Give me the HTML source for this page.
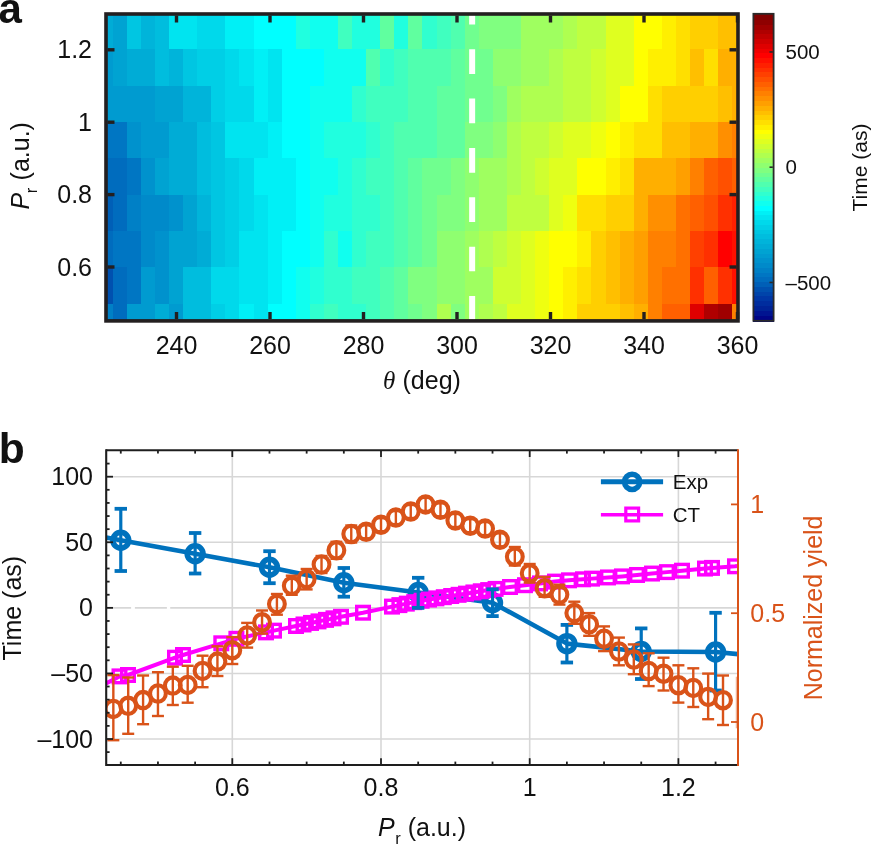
<!DOCTYPE html>
<html><head><meta charset="utf-8"><title>figure</title><style>html,body{margin:0;padding:0;background:#fff;width:871px;height:845px;overflow:hidden}svg{display:block;will-change:transform}text{font-family:"Liberation Sans",sans-serif}</style></head><body>
<svg width="871" height="845" viewBox="0 0 871 845">
<rect x="0" y="0" width="871" height="845" fill="#fff"/>
<g shape-rendering="crispEdges">
<rect x="106.80" y="14.70" width="6.50" height="35.30" fill="#00acd6"/>
<rect x="112.70" y="14.70" width="14.68" height="35.30" fill="#00a3d2"/>
<rect x="126.78" y="14.70" width="14.68" height="35.30" fill="#00c6e2"/>
<rect x="140.86" y="14.70" width="14.68" height="35.30" fill="#00b4da"/>
<rect x="154.94" y="14.70" width="14.68" height="35.30" fill="#00bdde"/>
<rect x="169.02" y="14.70" width="14.68" height="35.30" fill="#00e4f0"/>
<rect x="183.10" y="14.70" width="14.68" height="35.30" fill="#00e4f0"/>
<rect x="197.18" y="14.70" width="14.68" height="35.30" fill="#00d9eb"/>
<rect x="211.26" y="14.70" width="14.68" height="35.30" fill="#00d9eb"/>
<rect x="225.34" y="14.70" width="14.68" height="35.30" fill="#00f0f6"/>
<rect x="239.42" y="14.70" width="14.68" height="35.30" fill="#00f0f6"/>
<rect x="253.50" y="14.70" width="14.68" height="35.30" fill="#00ffff"/>
<rect x="267.58" y="14.70" width="14.68" height="35.30" fill="#00ffff"/>
<rect x="281.66" y="14.70" width="14.68" height="35.30" fill="#00ffff"/>
<rect x="295.74" y="14.70" width="14.68" height="35.30" fill="#20ffdf"/>
<rect x="309.82" y="14.70" width="14.68" height="35.30" fill="#10ffef"/>
<rect x="323.90" y="14.70" width="14.68" height="35.30" fill="#10ffef"/>
<rect x="337.98" y="14.70" width="14.68" height="35.30" fill="#40ffbf"/>
<rect x="352.06" y="14.70" width="14.68" height="35.30" fill="#20ffdf"/>
<rect x="366.14" y="14.70" width="14.68" height="35.30" fill="#20ffdf"/>
<rect x="380.22" y="14.70" width="14.68" height="35.30" fill="#60ff9f"/>
<rect x="394.30" y="14.70" width="14.68" height="35.30" fill="#20ffdf"/>
<rect x="408.38" y="14.70" width="14.68" height="35.30" fill="#60ff9f"/>
<rect x="422.46" y="14.70" width="14.68" height="35.30" fill="#30ffcf"/>
<rect x="436.54" y="14.70" width="14.68" height="35.30" fill="#40ffbf"/>
<rect x="450.62" y="14.70" width="14.68" height="35.30" fill="#50ffaf"/>
<rect x="464.70" y="14.70" width="14.68" height="35.30" fill="#70ff8f"/>
<rect x="478.78" y="14.70" width="14.68" height="35.30" fill="#80ff80"/>
<rect x="492.86" y="14.70" width="14.68" height="35.30" fill="#80ff80"/>
<rect x="506.94" y="14.70" width="14.68" height="35.30" fill="#80ff80"/>
<rect x="521.02" y="14.70" width="14.68" height="35.30" fill="#9fff60"/>
<rect x="535.10" y="14.70" width="14.68" height="35.30" fill="#9fff60"/>
<rect x="549.18" y="14.70" width="14.68" height="35.30" fill="#9fff60"/>
<rect x="563.26" y="14.70" width="14.68" height="35.30" fill="#afff50"/>
<rect x="577.34" y="14.70" width="14.68" height="35.30" fill="#bfff40"/>
<rect x="591.42" y="14.70" width="14.68" height="35.30" fill="#bfff40"/>
<rect x="605.50" y="14.70" width="14.68" height="35.30" fill="#dfff20"/>
<rect x="619.58" y="14.70" width="14.68" height="35.30" fill="#dfff20"/>
<rect x="633.66" y="14.70" width="14.68" height="35.30" fill="#ffff00"/>
<rect x="647.74" y="14.70" width="14.68" height="35.30" fill="#ffff00"/>
<rect x="661.82" y="14.70" width="14.68" height="35.30" fill="#ffef00"/>
<rect x="675.90" y="14.70" width="14.68" height="35.30" fill="#ffdf00"/>
<rect x="689.98" y="14.70" width="14.68" height="35.30" fill="#ffcf00"/>
<rect x="704.06" y="14.70" width="14.68" height="35.30" fill="#ffcf00"/>
<rect x="718.14" y="14.70" width="14.68" height="35.30" fill="#ffbf00"/>
<rect x="732.22" y="14.70" width="5.58" height="35.30" fill="#ffbf00"/>
<rect x="106.80" y="49.40" width="6.50" height="36.90" fill="#009bd0"/>
<rect x="112.70" y="49.40" width="14.68" height="36.90" fill="#00a3d2"/>
<rect x="126.78" y="49.40" width="14.68" height="36.90" fill="#00acd6"/>
<rect x="140.86" y="49.40" width="14.68" height="36.90" fill="#00acd6"/>
<rect x="154.94" y="49.40" width="14.68" height="36.90" fill="#00bdde"/>
<rect x="169.02" y="49.40" width="14.68" height="36.90" fill="#00b4da"/>
<rect x="183.10" y="49.40" width="14.68" height="36.90" fill="#00c6e2"/>
<rect x="197.18" y="49.40" width="14.68" height="36.90" fill="#00cfe6"/>
<rect x="211.26" y="49.40" width="14.68" height="36.90" fill="#00cfe6"/>
<rect x="225.34" y="49.40" width="14.68" height="36.90" fill="#00d9eb"/>
<rect x="239.42" y="49.40" width="14.68" height="36.90" fill="#00e4f0"/>
<rect x="253.50" y="49.40" width="14.68" height="36.90" fill="#00f0f6"/>
<rect x="267.58" y="49.40" width="14.68" height="36.90" fill="#00e4f0"/>
<rect x="281.66" y="49.40" width="14.68" height="36.90" fill="#00ffff"/>
<rect x="295.74" y="49.40" width="14.68" height="36.90" fill="#00ffff"/>
<rect x="309.82" y="49.40" width="14.68" height="36.90" fill="#00ffff"/>
<rect x="323.90" y="49.40" width="14.68" height="36.90" fill="#10ffef"/>
<rect x="337.98" y="49.40" width="14.68" height="36.90" fill="#10ffef"/>
<rect x="352.06" y="49.40" width="14.68" height="36.90" fill="#10ffef"/>
<rect x="366.14" y="49.40" width="14.68" height="36.90" fill="#50ffaf"/>
<rect x="380.22" y="49.40" width="14.68" height="36.90" fill="#30ffcf"/>
<rect x="394.30" y="49.40" width="14.68" height="36.90" fill="#40ffbf"/>
<rect x="408.38" y="49.40" width="14.68" height="36.90" fill="#50ffaf"/>
<rect x="422.46" y="49.40" width="14.68" height="36.90" fill="#50ffaf"/>
<rect x="436.54" y="49.40" width="14.68" height="36.90" fill="#50ffaf"/>
<rect x="450.62" y="49.40" width="14.68" height="36.90" fill="#60ff9f"/>
<rect x="464.70" y="49.40" width="14.68" height="36.90" fill="#70ff8f"/>
<rect x="478.78" y="49.40" width="14.68" height="36.90" fill="#70ff8f"/>
<rect x="492.86" y="49.40" width="14.68" height="36.90" fill="#8fff70"/>
<rect x="506.94" y="49.40" width="14.68" height="36.90" fill="#8fff70"/>
<rect x="521.02" y="49.40" width="14.68" height="36.90" fill="#9fff60"/>
<rect x="535.10" y="49.40" width="14.68" height="36.90" fill="#9fff60"/>
<rect x="549.18" y="49.40" width="14.68" height="36.90" fill="#afff50"/>
<rect x="563.26" y="49.40" width="14.68" height="36.90" fill="#bfff40"/>
<rect x="577.34" y="49.40" width="14.68" height="36.90" fill="#bfff40"/>
<rect x="591.42" y="49.40" width="14.68" height="36.90" fill="#cfff30"/>
<rect x="605.50" y="49.40" width="14.68" height="36.90" fill="#dfff20"/>
<rect x="619.58" y="49.40" width="14.68" height="36.90" fill="#dfff20"/>
<rect x="633.66" y="49.40" width="14.68" height="36.90" fill="#ffff00"/>
<rect x="647.74" y="49.40" width="14.68" height="36.90" fill="#ffef00"/>
<rect x="661.82" y="49.40" width="14.68" height="36.90" fill="#ffef00"/>
<rect x="675.90" y="49.40" width="14.68" height="36.90" fill="#ffdf00"/>
<rect x="689.98" y="49.40" width="14.68" height="36.90" fill="#ffbf00"/>
<rect x="704.06" y="49.40" width="14.68" height="36.90" fill="#ffdf00"/>
<rect x="718.14" y="49.40" width="14.68" height="36.90" fill="#ffaf00"/>
<rect x="732.22" y="49.40" width="5.58" height="36.90" fill="#ffaf00"/>
<rect x="106.80" y="85.70" width="6.50" height="36.90" fill="#009bd0"/>
<rect x="112.70" y="85.70" width="14.68" height="36.90" fill="#009bd0"/>
<rect x="126.78" y="85.70" width="14.68" height="36.90" fill="#009bd0"/>
<rect x="140.86" y="85.70" width="14.68" height="36.90" fill="#009bd0"/>
<rect x="154.94" y="85.70" width="14.68" height="36.90" fill="#00a3d2"/>
<rect x="169.02" y="85.70" width="14.68" height="36.90" fill="#00a3d2"/>
<rect x="183.10" y="85.70" width="14.68" height="36.90" fill="#00b4da"/>
<rect x="197.18" y="85.70" width="14.68" height="36.90" fill="#00b4da"/>
<rect x="211.26" y="85.70" width="14.68" height="36.90" fill="#00cfe6"/>
<rect x="225.34" y="85.70" width="14.68" height="36.90" fill="#00d9eb"/>
<rect x="239.42" y="85.70" width="14.68" height="36.90" fill="#00d9eb"/>
<rect x="253.50" y="85.70" width="14.68" height="36.90" fill="#00f0f6"/>
<rect x="267.58" y="85.70" width="14.68" height="36.90" fill="#00e4f0"/>
<rect x="281.66" y="85.70" width="14.68" height="36.90" fill="#00ffff"/>
<rect x="295.74" y="85.70" width="14.68" height="36.90" fill="#00ffff"/>
<rect x="309.82" y="85.70" width="14.68" height="36.90" fill="#10ffef"/>
<rect x="323.90" y="85.70" width="14.68" height="36.90" fill="#10ffef"/>
<rect x="337.98" y="85.70" width="14.68" height="36.90" fill="#10ffef"/>
<rect x="352.06" y="85.70" width="14.68" height="36.90" fill="#30ffcf"/>
<rect x="366.14" y="85.70" width="14.68" height="36.90" fill="#40ffbf"/>
<rect x="380.22" y="85.70" width="14.68" height="36.90" fill="#40ffbf"/>
<rect x="394.30" y="85.70" width="14.68" height="36.90" fill="#40ffbf"/>
<rect x="408.38" y="85.70" width="14.68" height="36.90" fill="#50ffaf"/>
<rect x="422.46" y="85.70" width="14.68" height="36.90" fill="#50ffaf"/>
<rect x="436.54" y="85.70" width="14.68" height="36.90" fill="#60ff9f"/>
<rect x="450.62" y="85.70" width="14.68" height="36.90" fill="#60ff9f"/>
<rect x="464.70" y="85.70" width="14.68" height="36.90" fill="#70ff8f"/>
<rect x="478.78" y="85.70" width="14.68" height="36.90" fill="#70ff8f"/>
<rect x="492.86" y="85.70" width="14.68" height="36.90" fill="#80ff80"/>
<rect x="506.94" y="85.70" width="14.68" height="36.90" fill="#9fff60"/>
<rect x="521.02" y="85.70" width="14.68" height="36.90" fill="#afff50"/>
<rect x="535.10" y="85.70" width="14.68" height="36.90" fill="#afff50"/>
<rect x="549.18" y="85.70" width="14.68" height="36.90" fill="#afff50"/>
<rect x="563.26" y="85.70" width="14.68" height="36.90" fill="#bfff40"/>
<rect x="577.34" y="85.70" width="14.68" height="36.90" fill="#bfff40"/>
<rect x="591.42" y="85.70" width="14.68" height="36.90" fill="#cfff30"/>
<rect x="605.50" y="85.70" width="14.68" height="36.90" fill="#dfff20"/>
<rect x="619.58" y="85.70" width="14.68" height="36.90" fill="#ffff00"/>
<rect x="633.66" y="85.70" width="14.68" height="36.90" fill="#ffff00"/>
<rect x="647.74" y="85.70" width="14.68" height="36.90" fill="#ffdf00"/>
<rect x="661.82" y="85.70" width="14.68" height="36.90" fill="#ffcf00"/>
<rect x="675.90" y="85.70" width="14.68" height="36.90" fill="#ffcf00"/>
<rect x="689.98" y="85.70" width="14.68" height="36.90" fill="#ffcf00"/>
<rect x="704.06" y="85.70" width="14.68" height="36.90" fill="#ffcf00"/>
<rect x="718.14" y="85.70" width="14.68" height="36.90" fill="#ffbf00"/>
<rect x="732.22" y="85.70" width="5.58" height="36.90" fill="#ffaf00"/>
<rect x="106.80" y="122.00" width="6.50" height="36.90" fill="#0076c3"/>
<rect x="112.70" y="122.00" width="14.68" height="36.90" fill="#0076c3"/>
<rect x="126.78" y="122.00" width="14.68" height="36.90" fill="#0092cd"/>
<rect x="140.86" y="122.00" width="14.68" height="36.90" fill="#009bd0"/>
<rect x="154.94" y="122.00" width="14.68" height="36.90" fill="#009bd0"/>
<rect x="169.02" y="122.00" width="14.68" height="36.90" fill="#00acd6"/>
<rect x="183.10" y="122.00" width="14.68" height="36.90" fill="#00acd6"/>
<rect x="197.18" y="122.00" width="14.68" height="36.90" fill="#00bdde"/>
<rect x="211.26" y="122.00" width="14.68" height="36.90" fill="#00c6e2"/>
<rect x="225.34" y="122.00" width="14.68" height="36.90" fill="#00e4f0"/>
<rect x="239.42" y="122.00" width="14.68" height="36.90" fill="#00e4f0"/>
<rect x="253.50" y="122.00" width="14.68" height="36.90" fill="#00e4f0"/>
<rect x="267.58" y="122.00" width="14.68" height="36.90" fill="#00f0f6"/>
<rect x="281.66" y="122.00" width="14.68" height="36.90" fill="#00ffff"/>
<rect x="295.74" y="122.00" width="14.68" height="36.90" fill="#00ffff"/>
<rect x="309.82" y="122.00" width="14.68" height="36.90" fill="#10ffef"/>
<rect x="323.90" y="122.00" width="14.68" height="36.90" fill="#20ffdf"/>
<rect x="337.98" y="122.00" width="14.68" height="36.90" fill="#20ffdf"/>
<rect x="352.06" y="122.00" width="14.68" height="36.90" fill="#20ffdf"/>
<rect x="366.14" y="122.00" width="14.68" height="36.90" fill="#30ffcf"/>
<rect x="380.22" y="122.00" width="14.68" height="36.90" fill="#40ffbf"/>
<rect x="394.30" y="122.00" width="14.68" height="36.90" fill="#50ffaf"/>
<rect x="408.38" y="122.00" width="14.68" height="36.90" fill="#50ffaf"/>
<rect x="422.46" y="122.00" width="14.68" height="36.90" fill="#50ffaf"/>
<rect x="436.54" y="122.00" width="14.68" height="36.90" fill="#60ff9f"/>
<rect x="450.62" y="122.00" width="14.68" height="36.90" fill="#60ff9f"/>
<rect x="464.70" y="122.00" width="14.68" height="36.90" fill="#80ff80"/>
<rect x="478.78" y="122.00" width="14.68" height="36.90" fill="#80ff80"/>
<rect x="492.86" y="122.00" width="14.68" height="36.90" fill="#8fff70"/>
<rect x="506.94" y="122.00" width="14.68" height="36.90" fill="#afff50"/>
<rect x="521.02" y="122.00" width="14.68" height="36.90" fill="#bfff40"/>
<rect x="535.10" y="122.00" width="14.68" height="36.90" fill="#bfff40"/>
<rect x="549.18" y="122.00" width="14.68" height="36.90" fill="#cfff30"/>
<rect x="563.26" y="122.00" width="14.68" height="36.90" fill="#dfff20"/>
<rect x="577.34" y="122.00" width="14.68" height="36.90" fill="#dfff20"/>
<rect x="591.42" y="122.00" width="14.68" height="36.90" fill="#efff10"/>
<rect x="605.50" y="122.00" width="14.68" height="36.90" fill="#ffff00"/>
<rect x="619.58" y="122.00" width="14.68" height="36.90" fill="#ffef00"/>
<rect x="633.66" y="122.00" width="14.68" height="36.90" fill="#ffdf00"/>
<rect x="647.74" y="122.00" width="14.68" height="36.90" fill="#ffdf00"/>
<rect x="661.82" y="122.00" width="14.68" height="36.90" fill="#ffbf00"/>
<rect x="675.90" y="122.00" width="14.68" height="36.90" fill="#ffbf00"/>
<rect x="689.98" y="122.00" width="14.68" height="36.90" fill="#ffaf00"/>
<rect x="704.06" y="122.00" width="14.68" height="36.90" fill="#ffaf00"/>
<rect x="718.14" y="122.00" width="14.68" height="36.90" fill="#ff8f00"/>
<rect x="732.22" y="122.00" width="5.58" height="36.90" fill="#ff8000"/>
<rect x="106.80" y="158.30" width="6.50" height="36.90" fill="#006cbe"/>
<rect x="112.70" y="158.30" width="14.68" height="36.90" fill="#006cbe"/>
<rect x="126.78" y="158.30" width="14.68" height="36.90" fill="#0076c3"/>
<rect x="140.86" y="158.30" width="14.68" height="36.90" fill="#0092cd"/>
<rect x="154.94" y="158.30" width="14.68" height="36.90" fill="#00a3d2"/>
<rect x="169.02" y="158.30" width="14.68" height="36.90" fill="#00acd6"/>
<rect x="183.10" y="158.30" width="14.68" height="36.90" fill="#00acd6"/>
<rect x="197.18" y="158.30" width="14.68" height="36.90" fill="#00bdde"/>
<rect x="211.26" y="158.30" width="14.68" height="36.90" fill="#00c6e2"/>
<rect x="225.34" y="158.30" width="14.68" height="36.90" fill="#00cfe6"/>
<rect x="239.42" y="158.30" width="14.68" height="36.90" fill="#00d9eb"/>
<rect x="253.50" y="158.30" width="14.68" height="36.90" fill="#00f0f6"/>
<rect x="267.58" y="158.30" width="14.68" height="36.90" fill="#00f0f6"/>
<rect x="281.66" y="158.30" width="14.68" height="36.90" fill="#00f0f6"/>
<rect x="295.74" y="158.30" width="14.68" height="36.90" fill="#00ffff"/>
<rect x="309.82" y="158.30" width="14.68" height="36.90" fill="#10ffef"/>
<rect x="323.90" y="158.30" width="14.68" height="36.90" fill="#10ffef"/>
<rect x="337.98" y="158.30" width="14.68" height="36.90" fill="#20ffdf"/>
<rect x="352.06" y="158.30" width="14.68" height="36.90" fill="#30ffcf"/>
<rect x="366.14" y="158.30" width="14.68" height="36.90" fill="#40ffbf"/>
<rect x="380.22" y="158.30" width="14.68" height="36.90" fill="#40ffbf"/>
<rect x="394.30" y="158.30" width="14.68" height="36.90" fill="#50ffaf"/>
<rect x="408.38" y="158.30" width="14.68" height="36.90" fill="#60ff9f"/>
<rect x="422.46" y="158.30" width="14.68" height="36.90" fill="#70ff8f"/>
<rect x="436.54" y="158.30" width="14.68" height="36.90" fill="#70ff8f"/>
<rect x="450.62" y="158.30" width="14.68" height="36.90" fill="#80ff80"/>
<rect x="464.70" y="158.30" width="14.68" height="36.90" fill="#8fff70"/>
<rect x="478.78" y="158.30" width="14.68" height="36.90" fill="#9fff60"/>
<rect x="492.86" y="158.30" width="14.68" height="36.90" fill="#9fff60"/>
<rect x="506.94" y="158.30" width="14.68" height="36.90" fill="#afff50"/>
<rect x="521.02" y="158.30" width="14.68" height="36.90" fill="#bfff40"/>
<rect x="535.10" y="158.30" width="14.68" height="36.90" fill="#cfff30"/>
<rect x="549.18" y="158.30" width="14.68" height="36.90" fill="#dfff20"/>
<rect x="563.26" y="158.30" width="14.68" height="36.90" fill="#dfff20"/>
<rect x="577.34" y="158.30" width="14.68" height="36.90" fill="#ffff00"/>
<rect x="591.42" y="158.30" width="14.68" height="36.90" fill="#ffff00"/>
<rect x="605.50" y="158.30" width="14.68" height="36.90" fill="#ffef00"/>
<rect x="619.58" y="158.30" width="14.68" height="36.90" fill="#ffdf00"/>
<rect x="633.66" y="158.30" width="14.68" height="36.90" fill="#ffaf00"/>
<rect x="647.74" y="158.30" width="14.68" height="36.90" fill="#ffaf00"/>
<rect x="661.82" y="158.30" width="14.68" height="36.90" fill="#ffaf00"/>
<rect x="675.90" y="158.30" width="14.68" height="36.90" fill="#ff9f00"/>
<rect x="689.98" y="158.30" width="14.68" height="36.90" fill="#ff8000"/>
<rect x="704.06" y="158.30" width="14.68" height="36.90" fill="#ff6000"/>
<rect x="718.14" y="158.30" width="14.68" height="36.90" fill="#ff5000"/>
<rect x="732.22" y="158.30" width="5.58" height="36.90" fill="#ff6000"/>
<rect x="106.80" y="194.60" width="6.50" height="36.90" fill="#005fb7"/>
<rect x="112.70" y="194.60" width="14.68" height="36.90" fill="#006cbe"/>
<rect x="126.78" y="194.60" width="14.68" height="36.90" fill="#0080c6"/>
<rect x="140.86" y="194.60" width="14.68" height="36.90" fill="#008aca"/>
<rect x="154.94" y="194.60" width="14.68" height="36.90" fill="#008aca"/>
<rect x="169.02" y="194.60" width="14.68" height="36.90" fill="#0092cd"/>
<rect x="183.10" y="194.60" width="14.68" height="36.90" fill="#00a3d2"/>
<rect x="197.18" y="194.60" width="14.68" height="36.90" fill="#00b4da"/>
<rect x="211.26" y="194.60" width="14.68" height="36.90" fill="#00c6e2"/>
<rect x="225.34" y="194.60" width="14.68" height="36.90" fill="#00cfe6"/>
<rect x="239.42" y="194.60" width="14.68" height="36.90" fill="#00d9eb"/>
<rect x="253.50" y="194.60" width="14.68" height="36.90" fill="#00e4f0"/>
<rect x="267.58" y="194.60" width="14.68" height="36.90" fill="#00f0f6"/>
<rect x="281.66" y="194.60" width="14.68" height="36.90" fill="#00f0f6"/>
<rect x="295.74" y="194.60" width="14.68" height="36.90" fill="#00ffff"/>
<rect x="309.82" y="194.60" width="14.68" height="36.90" fill="#10ffef"/>
<rect x="323.90" y="194.60" width="14.68" height="36.90" fill="#20ffdf"/>
<rect x="337.98" y="194.60" width="14.68" height="36.90" fill="#20ffdf"/>
<rect x="352.06" y="194.60" width="14.68" height="36.90" fill="#30ffcf"/>
<rect x="366.14" y="194.60" width="14.68" height="36.90" fill="#30ffcf"/>
<rect x="380.22" y="194.60" width="14.68" height="36.90" fill="#40ffbf"/>
<rect x="394.30" y="194.60" width="14.68" height="36.90" fill="#50ffaf"/>
<rect x="408.38" y="194.60" width="14.68" height="36.90" fill="#60ff9f"/>
<rect x="422.46" y="194.60" width="14.68" height="36.90" fill="#70ff8f"/>
<rect x="436.54" y="194.60" width="14.68" height="36.90" fill="#80ff80"/>
<rect x="450.62" y="194.60" width="14.68" height="36.90" fill="#80ff80"/>
<rect x="464.70" y="194.60" width="14.68" height="36.90" fill="#8fff70"/>
<rect x="478.78" y="194.60" width="14.68" height="36.90" fill="#9fff60"/>
<rect x="492.86" y="194.60" width="14.68" height="36.90" fill="#9fff60"/>
<rect x="506.94" y="194.60" width="14.68" height="36.90" fill="#bfff40"/>
<rect x="521.02" y="194.60" width="14.68" height="36.90" fill="#bfff40"/>
<rect x="535.10" y="194.60" width="14.68" height="36.90" fill="#bfff40"/>
<rect x="549.18" y="194.60" width="14.68" height="36.90" fill="#dfff20"/>
<rect x="563.26" y="194.60" width="14.68" height="36.90" fill="#efff10"/>
<rect x="577.34" y="194.60" width="14.68" height="36.90" fill="#ffdf00"/>
<rect x="591.42" y="194.60" width="14.68" height="36.90" fill="#ffdf00"/>
<rect x="605.50" y="194.60" width="14.68" height="36.90" fill="#ffcf00"/>
<rect x="619.58" y="194.60" width="14.68" height="36.90" fill="#ffcf00"/>
<rect x="633.66" y="194.60" width="14.68" height="36.90" fill="#ffaf00"/>
<rect x="647.74" y="194.60" width="14.68" height="36.90" fill="#ff8f00"/>
<rect x="661.82" y="194.60" width="14.68" height="36.90" fill="#ff8f00"/>
<rect x="675.90" y="194.60" width="14.68" height="36.90" fill="#ff7000"/>
<rect x="689.98" y="194.60" width="14.68" height="36.90" fill="#ff6000"/>
<rect x="704.06" y="194.60" width="14.68" height="36.90" fill="#ff5000"/>
<rect x="718.14" y="194.60" width="14.68" height="36.90" fill="#ff3000"/>
<rect x="732.22" y="194.60" width="5.58" height="36.90" fill="#ff2000"/>
<rect x="106.80" y="230.90" width="6.50" height="36.90" fill="#006cbe"/>
<rect x="112.70" y="230.90" width="14.68" height="36.90" fill="#0076c3"/>
<rect x="126.78" y="230.90" width="14.68" height="36.90" fill="#0076c3"/>
<rect x="140.86" y="230.90" width="14.68" height="36.90" fill="#008aca"/>
<rect x="154.94" y="230.90" width="14.68" height="36.90" fill="#0092cd"/>
<rect x="169.02" y="230.90" width="14.68" height="36.90" fill="#00a3d2"/>
<rect x="183.10" y="230.90" width="14.68" height="36.90" fill="#00a3d2"/>
<rect x="197.18" y="230.90" width="14.68" height="36.90" fill="#00acd6"/>
<rect x="211.26" y="230.90" width="14.68" height="36.90" fill="#00c6e2"/>
<rect x="225.34" y="230.90" width="14.68" height="36.90" fill="#00cfe6"/>
<rect x="239.42" y="230.90" width="14.68" height="36.90" fill="#00e4f0"/>
<rect x="253.50" y="230.90" width="14.68" height="36.90" fill="#00e4f0"/>
<rect x="267.58" y="230.90" width="14.68" height="36.90" fill="#00f0f6"/>
<rect x="281.66" y="230.90" width="14.68" height="36.90" fill="#00ffff"/>
<rect x="295.74" y="230.90" width="14.68" height="36.90" fill="#00ffff"/>
<rect x="309.82" y="230.90" width="14.68" height="36.90" fill="#10ffef"/>
<rect x="323.90" y="230.90" width="14.68" height="36.90" fill="#30ffcf"/>
<rect x="337.98" y="230.90" width="14.68" height="36.90" fill="#10ffef"/>
<rect x="352.06" y="230.90" width="14.68" height="36.90" fill="#30ffcf"/>
<rect x="366.14" y="230.90" width="14.68" height="36.90" fill="#40ffbf"/>
<rect x="380.22" y="230.90" width="14.68" height="36.90" fill="#40ffbf"/>
<rect x="394.30" y="230.90" width="14.68" height="36.90" fill="#50ffaf"/>
<rect x="408.38" y="230.90" width="14.68" height="36.90" fill="#60ff9f"/>
<rect x="422.46" y="230.90" width="14.68" height="36.90" fill="#70ff8f"/>
<rect x="436.54" y="230.90" width="14.68" height="36.90" fill="#8fff70"/>
<rect x="450.62" y="230.90" width="14.68" height="36.90" fill="#8fff70"/>
<rect x="464.70" y="230.90" width="14.68" height="36.90" fill="#9fff60"/>
<rect x="478.78" y="230.90" width="14.68" height="36.90" fill="#afff50"/>
<rect x="492.86" y="230.90" width="14.68" height="36.90" fill="#bfff40"/>
<rect x="506.94" y="230.90" width="14.68" height="36.90" fill="#cfff30"/>
<rect x="521.02" y="230.90" width="14.68" height="36.90" fill="#dfff20"/>
<rect x="535.10" y="230.90" width="14.68" height="36.90" fill="#efff10"/>
<rect x="549.18" y="230.90" width="14.68" height="36.90" fill="#ffff00"/>
<rect x="563.26" y="230.90" width="14.68" height="36.90" fill="#ffff00"/>
<rect x="577.34" y="230.90" width="14.68" height="36.90" fill="#ffef00"/>
<rect x="591.42" y="230.90" width="14.68" height="36.90" fill="#ffcf00"/>
<rect x="605.50" y="230.90" width="14.68" height="36.90" fill="#ffbf00"/>
<rect x="619.58" y="230.90" width="14.68" height="36.90" fill="#ffaf00"/>
<rect x="633.66" y="230.90" width="14.68" height="36.90" fill="#ff9f00"/>
<rect x="647.74" y="230.90" width="14.68" height="36.90" fill="#ff8000"/>
<rect x="661.82" y="230.90" width="14.68" height="36.90" fill="#ff8000"/>
<rect x="675.90" y="230.90" width="14.68" height="36.90" fill="#ff7000"/>
<rect x="689.98" y="230.90" width="14.68" height="36.90" fill="#ff4000"/>
<rect x="704.06" y="230.90" width="14.68" height="36.90" fill="#ff3000"/>
<rect x="718.14" y="230.90" width="14.68" height="36.90" fill="#ff0000"/>
<rect x="732.22" y="230.90" width="5.58" height="36.90" fill="#ff1000"/>
<rect x="106.80" y="267.20" width="6.50" height="36.90" fill="#0050af"/>
<rect x="112.70" y="267.20" width="14.68" height="36.90" fill="#006cbe"/>
<rect x="126.78" y="267.20" width="14.68" height="36.90" fill="#0076c3"/>
<rect x="140.86" y="267.20" width="14.68" height="36.90" fill="#009bd0"/>
<rect x="154.94" y="267.20" width="14.68" height="36.90" fill="#0092cd"/>
<rect x="169.02" y="267.20" width="14.68" height="36.90" fill="#00a3d2"/>
<rect x="183.10" y="267.20" width="14.68" height="36.90" fill="#00bdde"/>
<rect x="197.18" y="267.20" width="14.68" height="36.90" fill="#00bdde"/>
<rect x="211.26" y="267.20" width="14.68" height="36.90" fill="#00d9eb"/>
<rect x="225.34" y="267.20" width="14.68" height="36.90" fill="#00d9eb"/>
<rect x="239.42" y="267.20" width="14.68" height="36.90" fill="#00e4f0"/>
<rect x="253.50" y="267.20" width="14.68" height="36.90" fill="#00e4f0"/>
<rect x="267.58" y="267.20" width="14.68" height="36.90" fill="#00f0f6"/>
<rect x="281.66" y="267.20" width="14.68" height="36.90" fill="#00ffff"/>
<rect x="295.74" y="267.20" width="14.68" height="36.90" fill="#10ffef"/>
<rect x="309.82" y="267.20" width="14.68" height="36.90" fill="#20ffdf"/>
<rect x="323.90" y="267.20" width="14.68" height="36.90" fill="#30ffcf"/>
<rect x="337.98" y="267.20" width="14.68" height="36.90" fill="#30ffcf"/>
<rect x="352.06" y="267.20" width="14.68" height="36.90" fill="#40ffbf"/>
<rect x="366.14" y="267.20" width="14.68" height="36.90" fill="#40ffbf"/>
<rect x="380.22" y="267.20" width="14.68" height="36.90" fill="#50ffaf"/>
<rect x="394.30" y="267.20" width="14.68" height="36.90" fill="#60ff9f"/>
<rect x="408.38" y="267.20" width="14.68" height="36.90" fill="#80ff80"/>
<rect x="422.46" y="267.20" width="14.68" height="36.90" fill="#80ff80"/>
<rect x="436.54" y="267.20" width="14.68" height="36.90" fill="#8fff70"/>
<rect x="450.62" y="267.20" width="14.68" height="36.90" fill="#8fff70"/>
<rect x="464.70" y="267.20" width="14.68" height="36.90" fill="#9fff60"/>
<rect x="478.78" y="267.20" width="14.68" height="36.90" fill="#9fff60"/>
<rect x="492.86" y="267.20" width="14.68" height="36.90" fill="#cfff30"/>
<rect x="506.94" y="267.20" width="14.68" height="36.90" fill="#cfff30"/>
<rect x="521.02" y="267.20" width="14.68" height="36.90" fill="#dfff20"/>
<rect x="535.10" y="267.20" width="14.68" height="36.90" fill="#efff10"/>
<rect x="549.18" y="267.20" width="14.68" height="36.90" fill="#ffff00"/>
<rect x="563.26" y="267.20" width="14.68" height="36.90" fill="#ffef00"/>
<rect x="577.34" y="267.20" width="14.68" height="36.90" fill="#ffdf00"/>
<rect x="591.42" y="267.20" width="14.68" height="36.90" fill="#ffcf00"/>
<rect x="605.50" y="267.20" width="14.68" height="36.90" fill="#ffbf00"/>
<rect x="619.58" y="267.20" width="14.68" height="36.90" fill="#ffaf00"/>
<rect x="633.66" y="267.20" width="14.68" height="36.90" fill="#ff9f00"/>
<rect x="647.74" y="267.20" width="14.68" height="36.90" fill="#ff8000"/>
<rect x="661.82" y="267.20" width="14.68" height="36.90" fill="#ff7000"/>
<rect x="675.90" y="267.20" width="14.68" height="36.90" fill="#ff7000"/>
<rect x="689.98" y="267.20" width="14.68" height="36.90" fill="#ff3000"/>
<rect x="704.06" y="267.20" width="14.68" height="36.90" fill="#ff6000"/>
<rect x="718.14" y="267.20" width="14.68" height="36.90" fill="#ff3000"/>
<rect x="732.22" y="267.20" width="5.58" height="36.90" fill="#ff1000"/>
<rect x="106.80" y="303.50" width="6.50" height="17.30" fill="#0080c6"/>
<rect x="112.70" y="303.50" width="14.68" height="17.30" fill="#006cbe"/>
<rect x="126.78" y="303.50" width="14.68" height="17.30" fill="#009bd0"/>
<rect x="140.86" y="303.50" width="14.68" height="17.30" fill="#009bd0"/>
<rect x="154.94" y="303.50" width="14.68" height="17.30" fill="#00acd6"/>
<rect x="169.02" y="303.50" width="14.68" height="17.30" fill="#009bd0"/>
<rect x="183.10" y="303.50" width="14.68" height="17.30" fill="#00bdde"/>
<rect x="197.18" y="303.50" width="14.68" height="17.30" fill="#00bdde"/>
<rect x="211.26" y="303.50" width="14.68" height="17.30" fill="#00cfe6"/>
<rect x="225.34" y="303.50" width="14.68" height="17.30" fill="#00d9eb"/>
<rect x="239.42" y="303.50" width="14.68" height="17.30" fill="#00f0f6"/>
<rect x="253.50" y="303.50" width="14.68" height="17.30" fill="#00e4f0"/>
<rect x="267.58" y="303.50" width="14.68" height="17.30" fill="#00ffff"/>
<rect x="281.66" y="303.50" width="14.68" height="17.30" fill="#00ffff"/>
<rect x="295.74" y="303.50" width="14.68" height="17.30" fill="#10ffef"/>
<rect x="309.82" y="303.50" width="14.68" height="17.30" fill="#30ffcf"/>
<rect x="323.90" y="303.50" width="14.68" height="17.30" fill="#40ffbf"/>
<rect x="337.98" y="303.50" width="14.68" height="17.30" fill="#30ffcf"/>
<rect x="352.06" y="303.50" width="14.68" height="17.30" fill="#30ffcf"/>
<rect x="366.14" y="303.50" width="14.68" height="17.30" fill="#40ffbf"/>
<rect x="380.22" y="303.50" width="14.68" height="17.30" fill="#50ffaf"/>
<rect x="394.30" y="303.50" width="14.68" height="17.30" fill="#60ff9f"/>
<rect x="408.38" y="303.50" width="14.68" height="17.30" fill="#70ff8f"/>
<rect x="422.46" y="303.50" width="14.68" height="17.30" fill="#80ff80"/>
<rect x="436.54" y="303.50" width="14.68" height="17.30" fill="#afff50"/>
<rect x="450.62" y="303.50" width="14.68" height="17.30" fill="#80ff80"/>
<rect x="464.70" y="303.50" width="14.68" height="17.30" fill="#9fff60"/>
<rect x="478.78" y="303.50" width="14.68" height="17.30" fill="#afff50"/>
<rect x="492.86" y="303.50" width="14.68" height="17.30" fill="#bfff40"/>
<rect x="506.94" y="303.50" width="14.68" height="17.30" fill="#dfff20"/>
<rect x="521.02" y="303.50" width="14.68" height="17.30" fill="#dfff20"/>
<rect x="535.10" y="303.50" width="14.68" height="17.30" fill="#efff10"/>
<rect x="549.18" y="303.50" width="14.68" height="17.30" fill="#ffff00"/>
<rect x="563.26" y="303.50" width="14.68" height="17.30" fill="#ffef00"/>
<rect x="577.34" y="303.50" width="14.68" height="17.30" fill="#ffcf00"/>
<rect x="591.42" y="303.50" width="14.68" height="17.30" fill="#ffcf00"/>
<rect x="605.50" y="303.50" width="14.68" height="17.30" fill="#ffcf00"/>
<rect x="619.58" y="303.50" width="14.68" height="17.30" fill="#ffbf00"/>
<rect x="633.66" y="303.50" width="14.68" height="17.30" fill="#ffaf00"/>
<rect x="647.74" y="303.50" width="14.68" height="17.30" fill="#ff8000"/>
<rect x="661.82" y="303.50" width="14.68" height="17.30" fill="#ff6000"/>
<rect x="675.90" y="303.50" width="14.68" height="17.30" fill="#ff6000"/>
<rect x="689.98" y="303.50" width="14.68" height="17.30" fill="#df0000"/>
<rect x="704.06" y="303.50" width="14.68" height="17.30" fill="#af0000"/>
<rect x="718.14" y="303.50" width="14.68" height="17.30" fill="#9f0000"/>
<rect x="732.22" y="303.50" width="5.58" height="17.30" fill="#ff8000"/>
</g>
<line x1="472.15" y1="320.7" x2="472.15" y2="14" stroke="#fff" stroke-width="6" stroke-dasharray="24.7 24.65"/>
<rect x="106" y="14" width="632" height="306.9" fill="none" stroke="#231f20" stroke-width="3.6"/>
<line x1="176.50" y1="319" x2="176.50" y2="312" stroke="#231f20" stroke-width="3.4"/>
<line x1="176.50" y1="15.5" x2="176.50" y2="22.5" stroke="#231f20" stroke-width="3.4"/>
<line x1="270.00" y1="319" x2="270.00" y2="312" stroke="#231f20" stroke-width="3.4"/>
<line x1="270.00" y1="15.5" x2="270.00" y2="22.5" stroke="#231f20" stroke-width="3.4"/>
<line x1="363.50" y1="319" x2="363.50" y2="312" stroke="#231f20" stroke-width="3.4"/>
<line x1="363.50" y1="15.5" x2="363.50" y2="22.5" stroke="#231f20" stroke-width="3.4"/>
<line x1="457.00" y1="319" x2="457.00" y2="312" stroke="#231f20" stroke-width="3.4"/>
<line x1="457.00" y1="15.5" x2="457.00" y2="22.5" stroke="#231f20" stroke-width="3.4"/>
<line x1="550.50" y1="319" x2="550.50" y2="312" stroke="#231f20" stroke-width="3.4"/>
<line x1="550.50" y1="15.5" x2="550.50" y2="22.5" stroke="#231f20" stroke-width="3.4"/>
<line x1="644.00" y1="319" x2="644.00" y2="312" stroke="#231f20" stroke-width="3.4"/>
<line x1="644.00" y1="15.5" x2="644.00" y2="22.5" stroke="#231f20" stroke-width="3.4"/>
<line x1="737.50" y1="319" x2="737.50" y2="312" stroke="#231f20" stroke-width="3.4"/>
<line x1="737.50" y1="15.5" x2="737.50" y2="22.5" stroke="#231f20" stroke-width="3.4"/>
<line x1="107.5" y1="267.00" x2="114.5" y2="267.00" stroke="#231f20" stroke-width="3.4"/>
<line x1="736.5" y1="267.00" x2="729.5" y2="267.00" stroke="#231f20" stroke-width="3.4"/>
<line x1="107.5" y1="194.60" x2="114.5" y2="194.60" stroke="#231f20" stroke-width="3.4"/>
<line x1="736.5" y1="194.60" x2="729.5" y2="194.60" stroke="#231f20" stroke-width="3.4"/>
<line x1="107.5" y1="122.20" x2="114.5" y2="122.20" stroke="#231f20" stroke-width="3.4"/>
<line x1="736.5" y1="122.20" x2="729.5" y2="122.20" stroke="#231f20" stroke-width="3.4"/>
<line x1="107.5" y1="49.80" x2="114.5" y2="49.80" stroke="#231f20" stroke-width="3.4"/>
<line x1="736.5" y1="49.80" x2="729.5" y2="49.80" stroke="#231f20" stroke-width="3.4"/>
<text x="176.50" y="354" font-size="25" text-anchor="middle" fill="#111" style="font-family:'Liberation Sans',sans-serif">240</text>
<text x="270.00" y="354" font-size="25" text-anchor="middle" fill="#111" style="font-family:'Liberation Sans',sans-serif">260</text>
<text x="363.50" y="354" font-size="25" text-anchor="middle" fill="#111" style="font-family:'Liberation Sans',sans-serif">280</text>
<text x="457.00" y="354" font-size="25" text-anchor="middle" fill="#111" style="font-family:'Liberation Sans',sans-serif">300</text>
<text x="550.50" y="354" font-size="25" text-anchor="middle" fill="#111" style="font-family:'Liberation Sans',sans-serif">320</text>
<text x="644.00" y="354" font-size="25" text-anchor="middle" fill="#111" style="font-family:'Liberation Sans',sans-serif">340</text>
<text x="737.50" y="354" font-size="25" text-anchor="middle" fill="#111" style="font-family:'Liberation Sans',sans-serif">360</text>
<text x="92" y="275.60" font-size="25" text-anchor="end" fill="#111" style="font-family:'Liberation Sans',sans-serif">0.6</text>
<text x="92" y="203.20" font-size="25" text-anchor="end" fill="#111" style="font-family:'Liberation Sans',sans-serif">0.8</text>
<text x="92" y="130.80" font-size="25" text-anchor="end" fill="#111" style="font-family:'Liberation Sans',sans-serif">1</text>
<text x="92" y="58.40" font-size="25" text-anchor="end" fill="#111" style="font-family:'Liberation Sans',sans-serif">1.2</text>
<text x="383" y="388.5" font-size="25" fill="#111" style="font-family:'Liberation Serif',serif;font-style:italic">θ</text>
<text x="402.5" y="388.5" font-size="25" fill="#111" style="font-family:'Liberation Sans',sans-serif">(deg)</text>
<g transform="translate(29,209.5) rotate(-90)"><text x="0" y="0" font-size="25" fill="#111" style="font-family:'Liberation Sans',sans-serif"><tspan font-style="italic">P</tspan><tspan font-size="16.5" dy="8" dx="-0.5">r</tspan><tspan dy="-8" dx="7.4">(a.u.)</tspan></text></g>
<text x="-1.5" y="22.6" font-size="42" font-weight="bold" fill="#111" style="font-family:'Liberation Sans',sans-serif">a</text>
<g shape-rendering="crispEdges">
<rect x="753.4000000000001" y="315.03" width="20.20" height="6.47" fill="#000587"/>
<rect x="753.4000000000001" y="310.27" width="20.20" height="5.27" fill="#001491"/>
<rect x="753.4000000000001" y="305.50" width="20.20" height="5.27" fill="#002396"/>
<rect x="753.4000000000001" y="300.73" width="20.20" height="5.27" fill="#002d9e"/>
<rect x="753.4000000000001" y="295.96" width="20.20" height="5.27" fill="#0037a5"/>
<rect x="753.4000000000001" y="291.20" width="20.20" height="5.27" fill="#0044aa"/>
<rect x="753.4000000000001" y="286.43" width="20.20" height="5.27" fill="#0050af"/>
<rect x="753.4000000000001" y="281.66" width="20.20" height="5.27" fill="#005fb7"/>
<rect x="753.4000000000001" y="276.90" width="20.20" height="5.27" fill="#006cbe"/>
<rect x="753.4000000000001" y="272.13" width="20.20" height="5.27" fill="#0076c3"/>
<rect x="753.4000000000001" y="267.36" width="20.20" height="5.27" fill="#0080c6"/>
<rect x="753.4000000000001" y="262.59" width="20.20" height="5.27" fill="#008aca"/>
<rect x="753.4000000000001" y="257.83" width="20.20" height="5.27" fill="#0092cd"/>
<rect x="753.4000000000001" y="253.06" width="20.20" height="5.27" fill="#009bd0"/>
<rect x="753.4000000000001" y="248.29" width="20.20" height="5.27" fill="#00a3d2"/>
<rect x="753.4000000000001" y="243.53" width="20.20" height="5.27" fill="#00acd6"/>
<rect x="753.4000000000001" y="238.76" width="20.20" height="5.27" fill="#00b4da"/>
<rect x="753.4000000000001" y="233.99" width="20.20" height="5.27" fill="#00bdde"/>
<rect x="753.4000000000001" y="229.22" width="20.20" height="5.27" fill="#00c6e2"/>
<rect x="753.4000000000001" y="224.46" width="20.20" height="5.27" fill="#00cfe6"/>
<rect x="753.4000000000001" y="219.69" width="20.20" height="5.27" fill="#00d9eb"/>
<rect x="753.4000000000001" y="214.92" width="20.20" height="5.27" fill="#00e4f0"/>
<rect x="753.4000000000001" y="210.15" width="20.20" height="5.27" fill="#00f0f6"/>
<rect x="753.4000000000001" y="205.39" width="20.20" height="5.27" fill="#00ffff"/>
<rect x="753.4000000000001" y="200.62" width="20.20" height="5.27" fill="#10ffef"/>
<rect x="753.4000000000001" y="195.85" width="20.20" height="5.27" fill="#20ffdf"/>
<rect x="753.4000000000001" y="191.09" width="20.20" height="5.27" fill="#30ffcf"/>
<rect x="753.4000000000001" y="186.32" width="20.20" height="5.27" fill="#40ffbf"/>
<rect x="753.4000000000001" y="181.55" width="20.20" height="5.27" fill="#50ffaf"/>
<rect x="753.4000000000001" y="176.78" width="20.20" height="5.27" fill="#60ff9f"/>
<rect x="753.4000000000001" y="172.02" width="20.20" height="5.27" fill="#70ff8f"/>
<rect x="753.4000000000001" y="167.25" width="20.20" height="5.27" fill="#80ff80"/>
<rect x="753.4000000000001" y="162.48" width="20.20" height="5.27" fill="#8fff70"/>
<rect x="753.4000000000001" y="157.72" width="20.20" height="5.27" fill="#9fff60"/>
<rect x="753.4000000000001" y="152.95" width="20.20" height="5.27" fill="#afff50"/>
<rect x="753.4000000000001" y="148.18" width="20.20" height="5.27" fill="#bfff40"/>
<rect x="753.4000000000001" y="143.41" width="20.20" height="5.27" fill="#cfff30"/>
<rect x="753.4000000000001" y="138.65" width="20.20" height="5.27" fill="#dfff20"/>
<rect x="753.4000000000001" y="133.88" width="20.20" height="5.27" fill="#efff10"/>
<rect x="753.4000000000001" y="129.11" width="20.20" height="5.27" fill="#ffff00"/>
<rect x="753.4000000000001" y="124.35" width="20.20" height="5.27" fill="#ffef00"/>
<rect x="753.4000000000001" y="119.58" width="20.20" height="5.27" fill="#ffdf00"/>
<rect x="753.4000000000001" y="114.81" width="20.20" height="5.27" fill="#ffcf00"/>
<rect x="753.4000000000001" y="110.04" width="20.20" height="5.27" fill="#ffbf00"/>
<rect x="753.4000000000001" y="105.28" width="20.20" height="5.27" fill="#ffaf00"/>
<rect x="753.4000000000001" y="100.51" width="20.20" height="5.27" fill="#ff9f00"/>
<rect x="753.4000000000001" y="95.74" width="20.20" height="5.27" fill="#ff8f00"/>
<rect x="753.4000000000001" y="90.97" width="20.20" height="5.27" fill="#ff8000"/>
<rect x="753.4000000000001" y="86.21" width="20.20" height="5.27" fill="#ff7000"/>
<rect x="753.4000000000001" y="81.44" width="20.20" height="5.27" fill="#ff6000"/>
<rect x="753.4000000000001" y="76.67" width="20.20" height="5.27" fill="#ff5000"/>
<rect x="753.4000000000001" y="71.91" width="20.20" height="5.27" fill="#ff4000"/>
<rect x="753.4000000000001" y="67.14" width="20.20" height="5.27" fill="#ff3000"/>
<rect x="753.4000000000001" y="62.37" width="20.20" height="5.27" fill="#ff2000"/>
<rect x="753.4000000000001" y="57.60" width="20.20" height="5.27" fill="#ff1000"/>
<rect x="753.4000000000001" y="52.84" width="20.20" height="5.27" fill="#ff0000"/>
<rect x="753.4000000000001" y="48.07" width="20.20" height="5.27" fill="#ef0000"/>
<rect x="753.4000000000001" y="43.30" width="20.20" height="5.27" fill="#df0000"/>
<rect x="753.4000000000001" y="38.54" width="20.20" height="5.27" fill="#cf0000"/>
<rect x="753.4000000000001" y="33.77" width="20.20" height="5.27" fill="#bf0000"/>
<rect x="753.4000000000001" y="29.00" width="20.20" height="5.27" fill="#af0000"/>
<rect x="753.4000000000001" y="24.23" width="20.20" height="5.27" fill="#9f0000"/>
<rect x="753.4000000000001" y="19.47" width="20.20" height="5.27" fill="#8f0000"/>
<rect x="753.4000000000001" y="13.50" width="20.20" height="6.47" fill="#800000"/>
</g>
<rect x="753.4" y="13.8" width="20.2" height="307" fill="none" stroke="#2a2a2a" stroke-width="1.8"/>
<line x1="772.8" y1="282.45" x2="769.5" y2="282.45" stroke="#2a2a2a" stroke-width="1.6"/>
<line x1="772.8" y1="167.20" x2="769.5" y2="167.20" stroke="#2a2a2a" stroke-width="1.6"/>
<line x1="772.8" y1="51.95" x2="769.5" y2="51.95" stroke="#2a2a2a" stroke-width="1.6"/>
<text x="785.5" y="59.15" font-size="20.5" fill="#111" style="font-family:'Liberation Sans',sans-serif">500</text>
<text x="785.5" y="174.40" font-size="20.5" fill="#111" style="font-family:'Liberation Sans',sans-serif">0</text>
<text x="785.5" y="289.65" font-size="20.5" fill="#111" style="font-family:'Liberation Sans',sans-serif">–500</text>
<g transform="translate(866.6,167.5) rotate(-90)"><text x="0" y="0" font-size="21" text-anchor="middle" fill="#111" style="font-family:'Liberation Sans',sans-serif">Time (as)</text></g>
<line x1="232.30" y1="450.2" x2="232.30" y2="765.0" stroke="#d7d7d7" stroke-width="1.6"/>
<line x1="381.00" y1="450.2" x2="381.00" y2="765.0" stroke="#d7d7d7" stroke-width="1.6"/>
<line x1="529.70" y1="450.2" x2="529.70" y2="765.0" stroke="#d7d7d7" stroke-width="1.6"/>
<line x1="678.40" y1="450.2" x2="678.40" y2="765.0" stroke="#d7d7d7" stroke-width="1.6"/>
<line x1="106.2" y1="739.00" x2="738.0" y2="739.00" stroke="#d7d7d7" stroke-width="1.6"/>
<line x1="106.2" y1="673.43" x2="738.0" y2="673.43" stroke="#d7d7d7" stroke-width="1.6"/>
<line x1="106.2" y1="607.85" x2="738.0" y2="607.85" stroke="#d7d7d7" stroke-width="1.6"/>
<line x1="106.2" y1="542.27" x2="738.0" y2="542.27" stroke="#d7d7d7" stroke-width="1.6"/>
<line x1="106.2" y1="476.70" x2="738.0" y2="476.70" stroke="#d7d7d7" stroke-width="1.6"/>
<rect x="131.1" y="606" width="3.8" height="4" fill="#fff"/>
<rect x="166.9" y="606" width="3.3" height="4" fill="#fff"/>
<polyline points="106.20,537.61 120.78,540.30 195.13,553.70 269.48,567.30 343.83,582.80 418.18,592.50 492.52,602.70 566.88,643.60 641.22,651.50 715.58,652.00 738.00,654.10" fill="none" stroke="#0072bd" stroke-width="4.6" stroke-linejoin="round"/>
<circle cx="120.78" cy="540.30" r="7.9" fill="none" stroke="#0072bd" stroke-width="5.6"/>
<circle cx="195.13" cy="553.70" r="7.9" fill="none" stroke="#0072bd" stroke-width="5.6"/>
<circle cx="269.48" cy="567.30" r="7.9" fill="none" stroke="#0072bd" stroke-width="5.6"/>
<circle cx="343.83" cy="582.80" r="7.9" fill="none" stroke="#0072bd" stroke-width="5.6"/>
<circle cx="418.18" cy="592.50" r="7.9" fill="none" stroke="#0072bd" stroke-width="5.6"/>
<circle cx="492.52" cy="602.70" r="7.9" fill="none" stroke="#0072bd" stroke-width="5.6"/>
<circle cx="566.88" cy="643.60" r="7.9" fill="none" stroke="#0072bd" stroke-width="5.6"/>
<circle cx="641.22" cy="651.50" r="7.9" fill="none" stroke="#0072bd" stroke-width="5.6"/>
<circle cx="715.58" cy="652.00" r="7.9" fill="none" stroke="#0072bd" stroke-width="5.6"/>
<polyline points="106.20,683.37 119.50,676.40 128.00,675.00 175.00,657.70 183.00,655.00 221.30,643.30 236.40,638.80 266.00,632.37 274.00,630.65 296.00,626.00 303.50,624.47 311.00,622.93 318.50,621.40 326.00,619.87 333.50,618.34 341.00,616.80 363.00,612.70 392.00,606.60 399.40,605.12 406.80,603.64 414.20,602.16 421.60,600.74 429.00,599.56 436.40,598.38 443.80,597.19 451.20,596.01 458.60,594.82 466.00,593.64 473.40,592.46 480.80,591.27 488.20,590.09 495.60,588.90 510.00,587.00 525.00,585.20 540.00,583.40 555.00,581.60 569.00,580.33 583.00,579.29 592.00,578.63 608.00,577.44 622.00,576.40 637.00,574.98 652.00,573.55 667.00,572.12 682.00,570.70 705.00,568.55 712.00,567.90 735.00,566.30 738.00,566.00" fill="none" stroke="#ff00ff" stroke-width="4.0" stroke-linejoin="round"/>
<defs><clipPath id="cb"><rect x="107" y="451" width="630" height="313"/></clipPath></defs>
<g clip-path="url(#cb)">
<rect x="113.20" y="670.10" width="12.6" height="12.6" fill="none" stroke="#ff00ff" stroke-width="3.4"/>
<rect x="121.70" y="668.70" width="12.6" height="12.6" fill="none" stroke="#ff00ff" stroke-width="3.4"/>
<rect x="168.70" y="651.40" width="12.6" height="12.6" fill="none" stroke="#ff00ff" stroke-width="3.4"/>
<rect x="176.70" y="648.70" width="12.6" height="12.6" fill="none" stroke="#ff00ff" stroke-width="3.4"/>
<rect x="215.00" y="637.00" width="12.6" height="12.6" fill="none" stroke="#ff00ff" stroke-width="3.4"/>
<rect x="230.10" y="632.50" width="12.6" height="12.6" fill="none" stroke="#ff00ff" stroke-width="3.4"/>
<rect x="259.70" y="626.07" width="12.6" height="12.6" fill="none" stroke="#ff00ff" stroke-width="3.4"/>
<rect x="267.70" y="624.35" width="12.6" height="12.6" fill="none" stroke="#ff00ff" stroke-width="3.4"/>
<rect x="289.70" y="619.70" width="12.6" height="12.6" fill="none" stroke="#ff00ff" stroke-width="3.4"/>
<rect x="297.20" y="618.17" width="12.6" height="12.6" fill="none" stroke="#ff00ff" stroke-width="3.4"/>
<rect x="304.70" y="616.63" width="12.6" height="12.6" fill="none" stroke="#ff00ff" stroke-width="3.4"/>
<rect x="312.20" y="615.10" width="12.6" height="12.6" fill="none" stroke="#ff00ff" stroke-width="3.4"/>
<rect x="319.70" y="613.57" width="12.6" height="12.6" fill="none" stroke="#ff00ff" stroke-width="3.4"/>
<rect x="327.20" y="612.04" width="12.6" height="12.6" fill="none" stroke="#ff00ff" stroke-width="3.4"/>
<rect x="334.70" y="610.50" width="12.6" height="12.6" fill="none" stroke="#ff00ff" stroke-width="3.4"/>
<rect x="356.70" y="606.40" width="12.6" height="12.6" fill="none" stroke="#ff00ff" stroke-width="3.4"/>
<rect x="385.70" y="600.30" width="12.6" height="12.6" fill="none" stroke="#ff00ff" stroke-width="3.4"/>
<rect x="393.10" y="598.82" width="12.6" height="12.6" fill="none" stroke="#ff00ff" stroke-width="3.4"/>
<rect x="400.50" y="597.34" width="12.6" height="12.6" fill="none" stroke="#ff00ff" stroke-width="3.4"/>
<rect x="407.90" y="595.86" width="12.6" height="12.6" fill="none" stroke="#ff00ff" stroke-width="3.4"/>
<rect x="415.30" y="594.44" width="12.6" height="12.6" fill="none" stroke="#ff00ff" stroke-width="3.4"/>
<rect x="422.70" y="593.26" width="12.6" height="12.6" fill="none" stroke="#ff00ff" stroke-width="3.4"/>
<rect x="430.10" y="592.08" width="12.6" height="12.6" fill="none" stroke="#ff00ff" stroke-width="3.4"/>
<rect x="437.50" y="590.89" width="12.6" height="12.6" fill="none" stroke="#ff00ff" stroke-width="3.4"/>
<rect x="444.90" y="589.71" width="12.6" height="12.6" fill="none" stroke="#ff00ff" stroke-width="3.4"/>
<rect x="452.30" y="588.52" width="12.6" height="12.6" fill="none" stroke="#ff00ff" stroke-width="3.4"/>
<rect x="459.70" y="587.34" width="12.6" height="12.6" fill="none" stroke="#ff00ff" stroke-width="3.4"/>
<rect x="467.10" y="586.16" width="12.6" height="12.6" fill="none" stroke="#ff00ff" stroke-width="3.4"/>
<rect x="474.50" y="584.97" width="12.6" height="12.6" fill="none" stroke="#ff00ff" stroke-width="3.4"/>
<rect x="481.90" y="583.79" width="12.6" height="12.6" fill="none" stroke="#ff00ff" stroke-width="3.4"/>
<rect x="489.30" y="582.60" width="12.6" height="12.6" fill="none" stroke="#ff00ff" stroke-width="3.4"/>
<rect x="503.70" y="580.70" width="12.6" height="12.6" fill="none" stroke="#ff00ff" stroke-width="3.4"/>
<rect x="518.70" y="578.90" width="12.6" height="12.6" fill="none" stroke="#ff00ff" stroke-width="3.4"/>
<rect x="533.70" y="577.10" width="12.6" height="12.6" fill="none" stroke="#ff00ff" stroke-width="3.4"/>
<rect x="548.70" y="575.30" width="12.6" height="12.6" fill="none" stroke="#ff00ff" stroke-width="3.4"/>
<rect x="562.70" y="574.03" width="12.6" height="12.6" fill="none" stroke="#ff00ff" stroke-width="3.4"/>
<rect x="576.70" y="572.99" width="12.6" height="12.6" fill="none" stroke="#ff00ff" stroke-width="3.4"/>
<rect x="585.70" y="572.33" width="12.6" height="12.6" fill="none" stroke="#ff00ff" stroke-width="3.4"/>
<rect x="601.70" y="571.14" width="12.6" height="12.6" fill="none" stroke="#ff00ff" stroke-width="3.4"/>
<rect x="615.70" y="570.10" width="12.6" height="12.6" fill="none" stroke="#ff00ff" stroke-width="3.4"/>
<rect x="630.70" y="568.68" width="12.6" height="12.6" fill="none" stroke="#ff00ff" stroke-width="3.4"/>
<rect x="645.70" y="567.25" width="12.6" height="12.6" fill="none" stroke="#ff00ff" stroke-width="3.4"/>
<rect x="660.70" y="565.83" width="12.6" height="12.6" fill="none" stroke="#ff00ff" stroke-width="3.4"/>
<rect x="675.70" y="564.40" width="12.6" height="12.6" fill="none" stroke="#ff00ff" stroke-width="3.4"/>
<rect x="698.70" y="562.25" width="12.6" height="12.6" fill="none" stroke="#ff00ff" stroke-width="3.4"/>
<rect x="705.70" y="561.60" width="12.6" height="12.6" fill="none" stroke="#ff00ff" stroke-width="3.4"/>
<rect x="728.70" y="560.00" width="12.6" height="12.6" fill="none" stroke="#ff00ff" stroke-width="3.4"/>
</g>
<line x1="120.78" y1="508.80" x2="120.78" y2="571.00" stroke="#0072bd" stroke-width="3.2"/>
<line x1="114.58" y1="508.80" x2="126.98" y2="508.80" stroke="#0072bd" stroke-width="3.8"/>
<line x1="114.58" y1="571.00" x2="126.98" y2="571.00" stroke="#0072bd" stroke-width="3.8"/>
<line x1="195.13" y1="533.00" x2="195.13" y2="573.50" stroke="#0072bd" stroke-width="3.2"/>
<line x1="188.93" y1="533.00" x2="201.33" y2="533.00" stroke="#0072bd" stroke-width="3.8"/>
<line x1="188.93" y1="573.50" x2="201.33" y2="573.50" stroke="#0072bd" stroke-width="3.8"/>
<line x1="269.48" y1="551.20" x2="269.48" y2="583.20" stroke="#0072bd" stroke-width="3.2"/>
<line x1="263.28" y1="551.20" x2="275.68" y2="551.20" stroke="#0072bd" stroke-width="3.8"/>
<line x1="263.28" y1="583.20" x2="275.68" y2="583.20" stroke="#0072bd" stroke-width="3.8"/>
<line x1="343.83" y1="568.00" x2="343.83" y2="596.70" stroke="#0072bd" stroke-width="3.2"/>
<line x1="337.63" y1="568.00" x2="350.03" y2="568.00" stroke="#0072bd" stroke-width="3.8"/>
<line x1="337.63" y1="596.70" x2="350.03" y2="596.70" stroke="#0072bd" stroke-width="3.8"/>
<line x1="418.18" y1="577.80" x2="418.18" y2="607.90" stroke="#0072bd" stroke-width="3.2"/>
<line x1="411.98" y1="577.80" x2="424.38" y2="577.80" stroke="#0072bd" stroke-width="3.8"/>
<line x1="411.98" y1="607.90" x2="424.38" y2="607.90" stroke="#0072bd" stroke-width="3.8"/>
<line x1="492.52" y1="589.30" x2="492.52" y2="616.10" stroke="#0072bd" stroke-width="3.2"/>
<line x1="486.32" y1="589.30" x2="498.72" y2="589.30" stroke="#0072bd" stroke-width="3.8"/>
<line x1="486.32" y1="616.10" x2="498.72" y2="616.10" stroke="#0072bd" stroke-width="3.8"/>
<line x1="566.88" y1="624.90" x2="566.88" y2="662.50" stroke="#0072bd" stroke-width="3.2"/>
<line x1="560.67" y1="624.90" x2="573.08" y2="624.90" stroke="#0072bd" stroke-width="3.8"/>
<line x1="560.67" y1="662.50" x2="573.08" y2="662.50" stroke="#0072bd" stroke-width="3.8"/>
<line x1="641.22" y1="628.40" x2="641.22" y2="679.00" stroke="#0072bd" stroke-width="3.2"/>
<line x1="635.02" y1="628.40" x2="647.42" y2="628.40" stroke="#0072bd" stroke-width="3.8"/>
<line x1="635.02" y1="679.00" x2="647.42" y2="679.00" stroke="#0072bd" stroke-width="3.8"/>
<line x1="715.58" y1="612.80" x2="715.58" y2="690.50" stroke="#0072bd" stroke-width="3.2"/>
<line x1="709.38" y1="612.80" x2="721.78" y2="612.80" stroke="#0072bd" stroke-width="3.8"/>
<line x1="709.38" y1="690.50" x2="721.78" y2="690.50" stroke="#0072bd" stroke-width="3.8"/>
<g clip-path="url(#cb)">
<line x1="113.34" y1="675.10" x2="113.34" y2="740.20" stroke="#d95319" stroke-width="2.4"/>
<line x1="107.34" y1="675.10" x2="119.34" y2="675.10" stroke="#d95319" stroke-width="2.4"/>
<line x1="107.34" y1="740.20" x2="119.34" y2="740.20" stroke="#d95319" stroke-width="2.4"/>
<line x1="128.21" y1="677.50" x2="128.21" y2="733.80" stroke="#d95319" stroke-width="2.4"/>
<line x1="122.21" y1="677.50" x2="134.21" y2="677.50" stroke="#d95319" stroke-width="2.4"/>
<line x1="122.21" y1="733.80" x2="134.21" y2="733.80" stroke="#d95319" stroke-width="2.4"/>
<line x1="143.08" y1="675.50" x2="143.08" y2="724.20" stroke="#d95319" stroke-width="2.4"/>
<line x1="137.08" y1="675.50" x2="149.08" y2="675.50" stroke="#d95319" stroke-width="2.4"/>
<line x1="137.08" y1="724.20" x2="149.08" y2="724.20" stroke="#d95319" stroke-width="2.4"/>
<line x1="157.95" y1="672.20" x2="157.95" y2="716.00" stroke="#d95319" stroke-width="2.4"/>
<line x1="151.95" y1="672.20" x2="163.95" y2="672.20" stroke="#d95319" stroke-width="2.4"/>
<line x1="151.95" y1="716.00" x2="163.95" y2="716.00" stroke="#d95319" stroke-width="2.4"/>
<line x1="172.82" y1="666.70" x2="172.82" y2="705.00" stroke="#d95319" stroke-width="2.4"/>
<line x1="166.82" y1="666.70" x2="178.82" y2="666.70" stroke="#d95319" stroke-width="2.4"/>
<line x1="166.82" y1="705.00" x2="178.82" y2="705.00" stroke="#d95319" stroke-width="2.4"/>
<line x1="187.69" y1="665.80" x2="187.69" y2="702.70" stroke="#d95319" stroke-width="2.4"/>
<line x1="181.69" y1="665.80" x2="193.69" y2="665.80" stroke="#d95319" stroke-width="2.4"/>
<line x1="181.69" y1="702.70" x2="193.69" y2="702.70" stroke="#d95319" stroke-width="2.4"/>
<line x1="202.56" y1="655.70" x2="202.56" y2="687.20" stroke="#d95319" stroke-width="2.4"/>
<line x1="196.56" y1="655.70" x2="208.56" y2="655.70" stroke="#d95319" stroke-width="2.4"/>
<line x1="196.56" y1="687.20" x2="208.56" y2="687.20" stroke="#d95319" stroke-width="2.4"/>
<line x1="217.43" y1="646.30" x2="217.43" y2="676.00" stroke="#d95319" stroke-width="2.4"/>
<line x1="211.43" y1="646.30" x2="223.43" y2="646.30" stroke="#d95319" stroke-width="2.4"/>
<line x1="211.43" y1="676.00" x2="223.43" y2="676.00" stroke="#d95319" stroke-width="2.4"/>
<line x1="232.30" y1="637.10" x2="232.30" y2="664.00" stroke="#d95319" stroke-width="2.4"/>
<line x1="226.30" y1="637.10" x2="238.30" y2="637.10" stroke="#d95319" stroke-width="2.4"/>
<line x1="226.30" y1="664.00" x2="238.30" y2="664.00" stroke="#d95319" stroke-width="2.4"/>
<line x1="247.17" y1="622.90" x2="247.17" y2="647.60" stroke="#d95319" stroke-width="2.4"/>
<line x1="241.17" y1="622.90" x2="253.17" y2="622.90" stroke="#d95319" stroke-width="2.4"/>
<line x1="241.17" y1="647.60" x2="253.17" y2="647.60" stroke="#d95319" stroke-width="2.4"/>
<line x1="262.04" y1="610.50" x2="262.04" y2="633.60" stroke="#d95319" stroke-width="2.4"/>
<line x1="256.04" y1="610.50" x2="268.04" y2="610.50" stroke="#d95319" stroke-width="2.4"/>
<line x1="256.04" y1="633.60" x2="268.04" y2="633.60" stroke="#d95319" stroke-width="2.4"/>
<line x1="276.91" y1="594.00" x2="276.91" y2="614.70" stroke="#d95319" stroke-width="2.4"/>
<line x1="270.91" y1="594.00" x2="282.91" y2="594.00" stroke="#d95319" stroke-width="2.4"/>
<line x1="270.91" y1="614.70" x2="282.91" y2="614.70" stroke="#d95319" stroke-width="2.4"/>
<line x1="291.78" y1="575.70" x2="291.78" y2="594.80" stroke="#d95319" stroke-width="2.4"/>
<line x1="285.78" y1="575.70" x2="297.78" y2="575.70" stroke="#d95319" stroke-width="2.4"/>
<line x1="285.78" y1="594.80" x2="297.78" y2="594.80" stroke="#d95319" stroke-width="2.4"/>
<line x1="306.65" y1="569.00" x2="306.65" y2="589.40" stroke="#d95319" stroke-width="2.4"/>
<line x1="300.65" y1="569.00" x2="312.65" y2="569.00" stroke="#d95319" stroke-width="2.4"/>
<line x1="300.65" y1="589.40" x2="312.65" y2="589.40" stroke="#d95319" stroke-width="2.4"/>
<line x1="321.52" y1="556.00" x2="321.52" y2="573.00" stroke="#d95319" stroke-width="2.4"/>
<line x1="315.52" y1="556.00" x2="327.52" y2="556.00" stroke="#d95319" stroke-width="2.4"/>
<line x1="315.52" y1="573.00" x2="327.52" y2="573.00" stroke="#d95319" stroke-width="2.4"/>
<line x1="336.39" y1="541.80" x2="336.39" y2="558.80" stroke="#d95319" stroke-width="2.4"/>
<line x1="330.39" y1="541.80" x2="342.39" y2="541.80" stroke="#d95319" stroke-width="2.4"/>
<line x1="330.39" y1="558.80" x2="342.39" y2="558.80" stroke="#d95319" stroke-width="2.4"/>
<line x1="351.26" y1="525.50" x2="351.26" y2="542.50" stroke="#d95319" stroke-width="2.4"/>
<line x1="345.26" y1="525.50" x2="357.26" y2="525.50" stroke="#d95319" stroke-width="2.4"/>
<line x1="345.26" y1="542.50" x2="357.26" y2="542.50" stroke="#d95319" stroke-width="2.4"/>
<line x1="366.13" y1="525.30" x2="366.13" y2="538.30" stroke="#d95319" stroke-width="2.4"/>
<line x1="360.13" y1="525.30" x2="372.13" y2="525.30" stroke="#d95319" stroke-width="2.4"/>
<line x1="360.13" y1="538.30" x2="372.13" y2="538.30" stroke="#d95319" stroke-width="2.4"/>
<line x1="381.00" y1="518.20" x2="381.00" y2="531.20" stroke="#d95319" stroke-width="2.4"/>
<line x1="375.00" y1="518.20" x2="387.00" y2="518.20" stroke="#d95319" stroke-width="2.4"/>
<line x1="375.00" y1="531.20" x2="387.00" y2="531.20" stroke="#d95319" stroke-width="2.4"/>
<line x1="395.87" y1="511.10" x2="395.87" y2="524.10" stroke="#d95319" stroke-width="2.4"/>
<line x1="389.87" y1="511.10" x2="401.87" y2="511.10" stroke="#d95319" stroke-width="2.4"/>
<line x1="389.87" y1="524.10" x2="401.87" y2="524.10" stroke="#d95319" stroke-width="2.4"/>
<line x1="410.74" y1="505.00" x2="410.74" y2="518.00" stroke="#d95319" stroke-width="2.4"/>
<line x1="404.74" y1="505.00" x2="416.74" y2="505.00" stroke="#d95319" stroke-width="2.4"/>
<line x1="404.74" y1="518.00" x2="416.74" y2="518.00" stroke="#d95319" stroke-width="2.4"/>
<line x1="425.61" y1="497.90" x2="425.61" y2="510.90" stroke="#d95319" stroke-width="2.4"/>
<line x1="419.61" y1="497.90" x2="431.61" y2="497.90" stroke="#d95319" stroke-width="2.4"/>
<line x1="419.61" y1="510.90" x2="431.61" y2="510.90" stroke="#d95319" stroke-width="2.4"/>
<line x1="440.48" y1="503.30" x2="440.48" y2="516.30" stroke="#d95319" stroke-width="2.4"/>
<line x1="434.48" y1="503.30" x2="446.48" y2="503.30" stroke="#d95319" stroke-width="2.4"/>
<line x1="434.48" y1="516.30" x2="446.48" y2="516.30" stroke="#d95319" stroke-width="2.4"/>
<line x1="455.35" y1="514.00" x2="455.35" y2="527.00" stroke="#d95319" stroke-width="2.4"/>
<line x1="449.35" y1="514.00" x2="461.35" y2="514.00" stroke="#d95319" stroke-width="2.4"/>
<line x1="449.35" y1="527.00" x2="461.35" y2="527.00" stroke="#d95319" stroke-width="2.4"/>
<line x1="470.22" y1="519.20" x2="470.22" y2="532.20" stroke="#d95319" stroke-width="2.4"/>
<line x1="464.22" y1="519.20" x2="476.22" y2="519.20" stroke="#d95319" stroke-width="2.4"/>
<line x1="464.22" y1="532.20" x2="476.22" y2="532.20" stroke="#d95319" stroke-width="2.4"/>
<line x1="485.09" y1="522.10" x2="485.09" y2="535.10" stroke="#d95319" stroke-width="2.4"/>
<line x1="479.09" y1="522.10" x2="491.09" y2="522.10" stroke="#d95319" stroke-width="2.4"/>
<line x1="479.09" y1="535.10" x2="491.09" y2="535.10" stroke="#d95319" stroke-width="2.4"/>
<line x1="499.96" y1="533.30" x2="499.96" y2="546.30" stroke="#d95319" stroke-width="2.4"/>
<line x1="493.96" y1="533.30" x2="505.96" y2="533.30" stroke="#d95319" stroke-width="2.4"/>
<line x1="493.96" y1="546.30" x2="505.96" y2="546.30" stroke="#d95319" stroke-width="2.4"/>
<line x1="514.83" y1="547.00" x2="514.83" y2="565.50" stroke="#d95319" stroke-width="2.4"/>
<line x1="508.83" y1="547.00" x2="520.83" y2="547.00" stroke="#d95319" stroke-width="2.4"/>
<line x1="508.83" y1="565.50" x2="520.83" y2="565.50" stroke="#d95319" stroke-width="2.4"/>
<line x1="529.70" y1="564.00" x2="529.70" y2="582.60" stroke="#d95319" stroke-width="2.4"/>
<line x1="523.70" y1="564.00" x2="535.70" y2="564.00" stroke="#d95319" stroke-width="2.4"/>
<line x1="523.70" y1="582.60" x2="535.70" y2="582.60" stroke="#d95319" stroke-width="2.4"/>
<line x1="544.57" y1="576.90" x2="544.57" y2="596.80" stroke="#d95319" stroke-width="2.4"/>
<line x1="538.57" y1="576.90" x2="550.57" y2="576.90" stroke="#d95319" stroke-width="2.4"/>
<line x1="538.57" y1="596.80" x2="550.57" y2="596.80" stroke="#d95319" stroke-width="2.4"/>
<line x1="559.44" y1="584.70" x2="559.44" y2="604.60" stroke="#d95319" stroke-width="2.4"/>
<line x1="553.44" y1="584.70" x2="565.44" y2="584.70" stroke="#d95319" stroke-width="2.4"/>
<line x1="553.44" y1="604.60" x2="565.44" y2="604.60" stroke="#d95319" stroke-width="2.4"/>
<line x1="574.31" y1="601.70" x2="574.31" y2="623.80" stroke="#d95319" stroke-width="2.4"/>
<line x1="568.31" y1="601.70" x2="580.31" y2="601.70" stroke="#d95319" stroke-width="2.4"/>
<line x1="568.31" y1="623.80" x2="580.31" y2="623.80" stroke="#d95319" stroke-width="2.4"/>
<line x1="589.18" y1="613.10" x2="589.18" y2="635.80" stroke="#d95319" stroke-width="2.4"/>
<line x1="583.18" y1="613.10" x2="595.18" y2="613.10" stroke="#d95319" stroke-width="2.4"/>
<line x1="583.18" y1="635.80" x2="595.18" y2="635.80" stroke="#d95319" stroke-width="2.4"/>
<line x1="604.05" y1="626.40" x2="604.05" y2="651.10" stroke="#d95319" stroke-width="2.4"/>
<line x1="598.05" y1="626.40" x2="610.05" y2="626.40" stroke="#d95319" stroke-width="2.4"/>
<line x1="598.05" y1="651.10" x2="610.05" y2="651.10" stroke="#d95319" stroke-width="2.4"/>
<line x1="618.92" y1="637.60" x2="618.92" y2="665.30" stroke="#d95319" stroke-width="2.4"/>
<line x1="612.92" y1="637.60" x2="624.92" y2="637.60" stroke="#d95319" stroke-width="2.4"/>
<line x1="612.92" y1="665.30" x2="624.92" y2="665.30" stroke="#d95319" stroke-width="2.4"/>
<line x1="633.79" y1="644.40" x2="633.79" y2="674.20" stroke="#d95319" stroke-width="2.4"/>
<line x1="627.79" y1="644.40" x2="639.79" y2="644.40" stroke="#d95319" stroke-width="2.4"/>
<line x1="627.79" y1="674.20" x2="639.79" y2="674.20" stroke="#d95319" stroke-width="2.4"/>
<line x1="648.66" y1="653.30" x2="648.66" y2="686.10" stroke="#d95319" stroke-width="2.4"/>
<line x1="642.66" y1="653.30" x2="654.66" y2="653.30" stroke="#d95319" stroke-width="2.4"/>
<line x1="642.66" y1="686.10" x2="654.66" y2="686.10" stroke="#d95319" stroke-width="2.4"/>
<line x1="663.53" y1="657.70" x2="663.53" y2="690.50" stroke="#d95319" stroke-width="2.4"/>
<line x1="657.53" y1="657.70" x2="669.53" y2="657.70" stroke="#d95319" stroke-width="2.4"/>
<line x1="657.53" y1="690.50" x2="669.53" y2="690.50" stroke="#d95319" stroke-width="2.4"/>
<line x1="678.40" y1="665.30" x2="678.40" y2="702.60" stroke="#d95319" stroke-width="2.4"/>
<line x1="672.40" y1="665.30" x2="684.40" y2="665.30" stroke="#d95319" stroke-width="2.4"/>
<line x1="672.40" y1="702.60" x2="684.40" y2="702.60" stroke="#d95319" stroke-width="2.4"/>
<line x1="693.27" y1="668.30" x2="693.27" y2="707.00" stroke="#d95319" stroke-width="2.4"/>
<line x1="687.27" y1="668.30" x2="699.27" y2="668.30" stroke="#d95319" stroke-width="2.4"/>
<line x1="687.27" y1="707.00" x2="699.27" y2="707.00" stroke="#d95319" stroke-width="2.4"/>
<line x1="708.14" y1="673.60" x2="708.14" y2="719.20" stroke="#d95319" stroke-width="2.4"/>
<line x1="702.14" y1="673.60" x2="714.14" y2="673.60" stroke="#d95319" stroke-width="2.4"/>
<line x1="702.14" y1="719.20" x2="714.14" y2="719.20" stroke="#d95319" stroke-width="2.4"/>
<line x1="723.01" y1="675.50" x2="723.01" y2="725.00" stroke="#d95319" stroke-width="2.4"/>
<line x1="717.01" y1="675.50" x2="729.01" y2="675.50" stroke="#d95319" stroke-width="2.4"/>
<line x1="717.01" y1="725.00" x2="729.01" y2="725.00" stroke="#d95319" stroke-width="2.4"/>
<ellipse cx="113.34" cy="708.90" rx="7.9" ry="8.2" fill="none" stroke="#d95319" stroke-width="4.1"/>
<ellipse cx="128.21" cy="705.80" rx="7.9" ry="8.2" fill="none" stroke="#d95319" stroke-width="4.1"/>
<ellipse cx="143.08" cy="700.10" rx="7.9" ry="8.2" fill="none" stroke="#d95319" stroke-width="4.1"/>
<ellipse cx="157.95" cy="693.50" rx="7.9" ry="8.2" fill="none" stroke="#d95319" stroke-width="4.1"/>
<ellipse cx="172.82" cy="685.60" rx="7.9" ry="8.2" fill="none" stroke="#d95319" stroke-width="4.1"/>
<ellipse cx="187.69" cy="684.90" rx="7.9" ry="8.2" fill="none" stroke="#d95319" stroke-width="4.1"/>
<ellipse cx="202.56" cy="670.90" rx="7.9" ry="8.2" fill="none" stroke="#d95319" stroke-width="4.1"/>
<ellipse cx="217.43" cy="661.60" rx="7.9" ry="8.2" fill="none" stroke="#d95319" stroke-width="4.1"/>
<ellipse cx="232.30" cy="650.20" rx="7.9" ry="8.2" fill="none" stroke="#d95319" stroke-width="4.1"/>
<ellipse cx="247.17" cy="635.40" rx="7.9" ry="8.2" fill="none" stroke="#d95319" stroke-width="4.1"/>
<ellipse cx="262.04" cy="622.30" rx="7.9" ry="8.2" fill="none" stroke="#d95319" stroke-width="4.1"/>
<ellipse cx="276.91" cy="604.00" rx="7.9" ry="8.2" fill="none" stroke="#d95319" stroke-width="4.1"/>
<ellipse cx="291.78" cy="585.80" rx="7.9" ry="8.2" fill="none" stroke="#d95319" stroke-width="4.1"/>
<ellipse cx="306.65" cy="579.00" rx="7.9" ry="8.2" fill="none" stroke="#d95319" stroke-width="4.1"/>
<ellipse cx="321.52" cy="564.50" rx="7.9" ry="8.2" fill="none" stroke="#d95319" stroke-width="4.1"/>
<ellipse cx="336.39" cy="550.30" rx="7.9" ry="8.2" fill="none" stroke="#d95319" stroke-width="4.1"/>
<ellipse cx="351.26" cy="534.00" rx="7.9" ry="8.2" fill="none" stroke="#d95319" stroke-width="4.1"/>
<ellipse cx="366.13" cy="531.80" rx="7.9" ry="8.2" fill="none" stroke="#d95319" stroke-width="4.1"/>
<ellipse cx="381.00" cy="524.70" rx="7.9" ry="8.2" fill="none" stroke="#d95319" stroke-width="4.1"/>
<ellipse cx="395.87" cy="517.60" rx="7.9" ry="8.2" fill="none" stroke="#d95319" stroke-width="4.1"/>
<ellipse cx="410.74" cy="511.50" rx="7.9" ry="8.2" fill="none" stroke="#d95319" stroke-width="4.1"/>
<ellipse cx="425.61" cy="504.40" rx="7.9" ry="8.2" fill="none" stroke="#d95319" stroke-width="4.1"/>
<ellipse cx="440.48" cy="509.80" rx="7.9" ry="8.2" fill="none" stroke="#d95319" stroke-width="4.1"/>
<ellipse cx="455.35" cy="520.50" rx="7.9" ry="8.2" fill="none" stroke="#d95319" stroke-width="4.1"/>
<ellipse cx="470.22" cy="525.70" rx="7.9" ry="8.2" fill="none" stroke="#d95319" stroke-width="4.1"/>
<ellipse cx="485.09" cy="528.60" rx="7.9" ry="8.2" fill="none" stroke="#d95319" stroke-width="4.1"/>
<ellipse cx="499.96" cy="539.80" rx="7.9" ry="8.2" fill="none" stroke="#d95319" stroke-width="4.1"/>
<ellipse cx="514.83" cy="556.70" rx="7.9" ry="8.2" fill="none" stroke="#d95319" stroke-width="4.1"/>
<ellipse cx="529.70" cy="573.30" rx="7.9" ry="8.2" fill="none" stroke="#d95319" stroke-width="4.1"/>
<ellipse cx="544.57" cy="588.20" rx="7.9" ry="8.2" fill="none" stroke="#d95319" stroke-width="4.1"/>
<ellipse cx="559.44" cy="594.60" rx="7.9" ry="8.2" fill="none" stroke="#d95319" stroke-width="4.1"/>
<ellipse cx="574.31" cy="613.10" rx="7.9" ry="8.2" fill="none" stroke="#d95319" stroke-width="4.1"/>
<ellipse cx="589.18" cy="624.30" rx="7.9" ry="8.2" fill="none" stroke="#d95319" stroke-width="4.1"/>
<ellipse cx="604.05" cy="638.70" rx="7.9" ry="8.2" fill="none" stroke="#d95319" stroke-width="4.1"/>
<ellipse cx="618.92" cy="651.50" rx="7.9" ry="8.2" fill="none" stroke="#d95319" stroke-width="4.1"/>
<ellipse cx="633.79" cy="659.50" rx="7.9" ry="8.2" fill="none" stroke="#d95319" stroke-width="4.1"/>
<ellipse cx="648.66" cy="671.00" rx="7.9" ry="8.2" fill="none" stroke="#d95319" stroke-width="4.1"/>
<ellipse cx="663.53" cy="673.70" rx="7.9" ry="8.2" fill="none" stroke="#d95319" stroke-width="4.1"/>
<ellipse cx="678.40" cy="685.20" rx="7.9" ry="8.2" fill="none" stroke="#d95319" stroke-width="4.1"/>
<ellipse cx="693.27" cy="687.90" rx="7.9" ry="8.2" fill="none" stroke="#d95319" stroke-width="4.1"/>
<ellipse cx="708.14" cy="696.90" rx="7.9" ry="8.2" fill="none" stroke="#d95319" stroke-width="4.1"/>
<ellipse cx="723.01" cy="700.20" rx="7.9" ry="8.2" fill="none" stroke="#d95319" stroke-width="4.1"/>
<line x1="736.3" y1="676.7" x2="736.3" y2="728.3" stroke="#e8a080" stroke-width="1"/>
</g>
<line x1="106.2" y1="450.2" x2="738.0" y2="450.2" stroke="#1e1e1e" stroke-width="2"/>
<line x1="106.2" y1="765.0" x2="738.0" y2="765.0" stroke="#1e1e1e" stroke-width="2.1"/>
<line x1="106.2" y1="449.2" x2="106.2" y2="766.0" stroke="#1e1e1e" stroke-width="2.1"/>
<line x1="738.0" y1="449.2" x2="738.0" y2="766.0" stroke="#d95319" stroke-width="2"/>
<line x1="120.78" y1="765.0" x2="120.78" y2="761.60" stroke="#1e1e1e" stroke-width="1.8"/>
<line x1="120.78" y1="450.2" x2="120.78" y2="453.60" stroke="#1e1e1e" stroke-width="1.8"/>
<line x1="157.95" y1="765.0" x2="157.95" y2="761.60" stroke="#1e1e1e" stroke-width="1.8"/>
<line x1="157.95" y1="450.2" x2="157.95" y2="453.60" stroke="#1e1e1e" stroke-width="1.8"/>
<line x1="195.13" y1="765.0" x2="195.13" y2="761.60" stroke="#1e1e1e" stroke-width="1.8"/>
<line x1="195.13" y1="450.2" x2="195.13" y2="453.60" stroke="#1e1e1e" stroke-width="1.8"/>
<line x1="232.30" y1="765.0" x2="232.30" y2="758.20" stroke="#1e1e1e" stroke-width="1.8"/>
<line x1="232.30" y1="450.2" x2="232.30" y2="457.00" stroke="#1e1e1e" stroke-width="1.8"/>
<line x1="269.48" y1="765.0" x2="269.48" y2="761.60" stroke="#1e1e1e" stroke-width="1.8"/>
<line x1="269.48" y1="450.2" x2="269.48" y2="453.60" stroke="#1e1e1e" stroke-width="1.8"/>
<line x1="306.65" y1="765.0" x2="306.65" y2="761.60" stroke="#1e1e1e" stroke-width="1.8"/>
<line x1="306.65" y1="450.2" x2="306.65" y2="453.60" stroke="#1e1e1e" stroke-width="1.8"/>
<line x1="343.83" y1="765.0" x2="343.83" y2="761.60" stroke="#1e1e1e" stroke-width="1.8"/>
<line x1="343.83" y1="450.2" x2="343.83" y2="453.60" stroke="#1e1e1e" stroke-width="1.8"/>
<line x1="381.00" y1="765.0" x2="381.00" y2="758.20" stroke="#1e1e1e" stroke-width="1.8"/>
<line x1="381.00" y1="450.2" x2="381.00" y2="457.00" stroke="#1e1e1e" stroke-width="1.8"/>
<line x1="418.18" y1="765.0" x2="418.18" y2="761.60" stroke="#1e1e1e" stroke-width="1.8"/>
<line x1="418.18" y1="450.2" x2="418.18" y2="453.60" stroke="#1e1e1e" stroke-width="1.8"/>
<line x1="455.35" y1="765.0" x2="455.35" y2="761.60" stroke="#1e1e1e" stroke-width="1.8"/>
<line x1="455.35" y1="450.2" x2="455.35" y2="453.60" stroke="#1e1e1e" stroke-width="1.8"/>
<line x1="492.52" y1="765.0" x2="492.52" y2="761.60" stroke="#1e1e1e" stroke-width="1.8"/>
<line x1="492.52" y1="450.2" x2="492.52" y2="453.60" stroke="#1e1e1e" stroke-width="1.8"/>
<line x1="529.70" y1="765.0" x2="529.70" y2="758.20" stroke="#1e1e1e" stroke-width="1.8"/>
<line x1="529.70" y1="450.2" x2="529.70" y2="457.00" stroke="#1e1e1e" stroke-width="1.8"/>
<line x1="566.88" y1="765.0" x2="566.88" y2="761.60" stroke="#1e1e1e" stroke-width="1.8"/>
<line x1="566.88" y1="450.2" x2="566.88" y2="453.60" stroke="#1e1e1e" stroke-width="1.8"/>
<line x1="604.05" y1="765.0" x2="604.05" y2="761.60" stroke="#1e1e1e" stroke-width="1.8"/>
<line x1="604.05" y1="450.2" x2="604.05" y2="453.60" stroke="#1e1e1e" stroke-width="1.8"/>
<line x1="641.23" y1="765.0" x2="641.23" y2="761.60" stroke="#1e1e1e" stroke-width="1.8"/>
<line x1="641.23" y1="450.2" x2="641.23" y2="453.60" stroke="#1e1e1e" stroke-width="1.8"/>
<line x1="678.40" y1="765.0" x2="678.40" y2="758.20" stroke="#1e1e1e" stroke-width="1.8"/>
<line x1="678.40" y1="450.2" x2="678.40" y2="457.00" stroke="#1e1e1e" stroke-width="1.8"/>
<line x1="715.58" y1="765.0" x2="715.58" y2="761.60" stroke="#1e1e1e" stroke-width="1.8"/>
<line x1="715.58" y1="450.2" x2="715.58" y2="453.60" stroke="#1e1e1e" stroke-width="1.8"/>
<line x1="106.2" y1="752.12" x2="109.60" y2="752.12" stroke="#1e1e1e" stroke-width="1.8"/>
<line x1="106.2" y1="739.00" x2="113.00" y2="739.00" stroke="#1e1e1e" stroke-width="1.8"/>
<line x1="106.2" y1="725.88" x2="109.60" y2="725.88" stroke="#1e1e1e" stroke-width="1.8"/>
<line x1="106.2" y1="712.77" x2="109.60" y2="712.77" stroke="#1e1e1e" stroke-width="1.8"/>
<line x1="106.2" y1="699.65" x2="109.60" y2="699.65" stroke="#1e1e1e" stroke-width="1.8"/>
<line x1="106.2" y1="686.54" x2="109.60" y2="686.54" stroke="#1e1e1e" stroke-width="1.8"/>
<line x1="106.2" y1="673.43" x2="113.00" y2="673.43" stroke="#1e1e1e" stroke-width="1.8"/>
<line x1="106.2" y1="660.31" x2="109.60" y2="660.31" stroke="#1e1e1e" stroke-width="1.8"/>
<line x1="106.2" y1="647.20" x2="109.60" y2="647.20" stroke="#1e1e1e" stroke-width="1.8"/>
<line x1="106.2" y1="634.08" x2="109.60" y2="634.08" stroke="#1e1e1e" stroke-width="1.8"/>
<line x1="106.2" y1="620.97" x2="109.60" y2="620.97" stroke="#1e1e1e" stroke-width="1.8"/>
<line x1="106.2" y1="607.85" x2="113.00" y2="607.85" stroke="#1e1e1e" stroke-width="1.8"/>
<line x1="106.2" y1="594.74" x2="109.60" y2="594.74" stroke="#1e1e1e" stroke-width="1.8"/>
<line x1="106.2" y1="581.62" x2="109.60" y2="581.62" stroke="#1e1e1e" stroke-width="1.8"/>
<line x1="106.2" y1="568.50" x2="109.60" y2="568.50" stroke="#1e1e1e" stroke-width="1.8"/>
<line x1="106.2" y1="555.39" x2="109.60" y2="555.39" stroke="#1e1e1e" stroke-width="1.8"/>
<line x1="106.2" y1="542.27" x2="113.00" y2="542.27" stroke="#1e1e1e" stroke-width="1.8"/>
<line x1="106.2" y1="529.16" x2="109.60" y2="529.16" stroke="#1e1e1e" stroke-width="1.8"/>
<line x1="106.2" y1="516.05" x2="109.60" y2="516.05" stroke="#1e1e1e" stroke-width="1.8"/>
<line x1="106.2" y1="502.93" x2="109.60" y2="502.93" stroke="#1e1e1e" stroke-width="1.8"/>
<line x1="106.2" y1="489.81" x2="109.60" y2="489.81" stroke="#1e1e1e" stroke-width="1.8"/>
<line x1="106.2" y1="476.70" x2="113.00" y2="476.70" stroke="#1e1e1e" stroke-width="1.8"/>
<line x1="106.2" y1="463.59" x2="109.60" y2="463.59" stroke="#1e1e1e" stroke-width="1.8"/>
<line x1="738.0" y1="722.00" x2="731.00" y2="722.00" stroke="#d95319" stroke-width="1.8"/>
<line x1="738.0" y1="613.20" x2="731.00" y2="613.20" stroke="#d95319" stroke-width="1.8"/>
<line x1="738.0" y1="504.40" x2="731.00" y2="504.40" stroke="#d95319" stroke-width="1.8"/>
<text x="93" y="485.30" font-size="25" text-anchor="end" fill="#111" style="font-family:'Liberation Sans',sans-serif">100</text>
<text x="93" y="550.88" font-size="25" text-anchor="end" fill="#111" style="font-family:'Liberation Sans',sans-serif">50</text>
<text x="93" y="616.45" font-size="25" text-anchor="end" fill="#111" style="font-family:'Liberation Sans',sans-serif">0</text>
<text x="93" y="682.03" font-size="25" text-anchor="end" fill="#111" style="font-family:'Liberation Sans',sans-serif">–50</text>
<text x="93" y="747.60" font-size="25" text-anchor="end" fill="#111" style="font-family:'Liberation Sans',sans-serif">–100</text>
<text x="232.30" y="795.7" font-size="25" text-anchor="middle" fill="#111" style="font-family:'Liberation Sans',sans-serif">0.6</text>
<text x="381.00" y="795.7" font-size="25" text-anchor="middle" fill="#111" style="font-family:'Liberation Sans',sans-serif">0.8</text>
<text x="529.70" y="795.7" font-size="25" text-anchor="middle" fill="#111" style="font-family:'Liberation Sans',sans-serif">1</text>
<text x="678.40" y="795.7" font-size="25" text-anchor="middle" fill="#111" style="font-family:'Liberation Sans',sans-serif">1.2</text>
<text x="750.3" y="730.60" font-size="25" fill="#d95319" style="font-family:'Liberation Sans',sans-serif">0</text>
<text x="750.3" y="621.80" font-size="25" fill="#d95319" style="font-family:'Liberation Sans',sans-serif">0.5</text>
<text x="750.3" y="513.00" font-size="25" fill="#d95319" style="font-family:'Liberation Sans',sans-serif">1</text>
<text x="378" y="836" font-size="25" fill="#111" style="font-family:'Liberation Sans',sans-serif"><tspan font-style="italic">P</tspan><tspan font-size="16.5" dy="8" dx="0.5">r</tspan><tspan dy="-8" dx="7">(a.u.)</tspan></text>
<g transform="translate(21,608.2) rotate(-90)"><text x="0" y="0" font-size="25" text-anchor="middle" fill="#111" style="font-family:'Liberation Sans',sans-serif">Time (as)</text></g>
<g transform="translate(822.3,607.9) rotate(-90)"><text x="0" y="0" font-size="25" text-anchor="middle" fill="#d95319" style="font-family:'Liberation Sans',sans-serif">Normalized yield</text></g>
<text x="-1.2" y="462.8" font-size="42.5" font-weight="bold" fill="#111" style="font-family:'Liberation Sans',sans-serif">b</text>
<line x1="600.9" y1="481.8" x2="663.1" y2="481.8" stroke="#0072bd" stroke-width="5"/>
<circle cx="632.1" cy="481.9" r="7.6" fill="none" stroke="#0072bd" stroke-width="5.4"/>
<text x="672.8" y="488.8" font-size="20.5" fill="#111" style="font-family:'Liberation Sans',sans-serif">Exp</text>
<line x1="600.9" y1="514.8" x2="663.1" y2="514.8" stroke="#ff00ff" stroke-width="3.6"/>
<rect x="625.8" y="508.1" width="12.8" height="12.8" fill="none" stroke="#ff00ff" stroke-width="3.2"/>
<text x="672.8" y="521.6" font-size="20.5" fill="#111" style="font-family:'Liberation Sans',sans-serif">CT</text>
</svg>
</body></html>
